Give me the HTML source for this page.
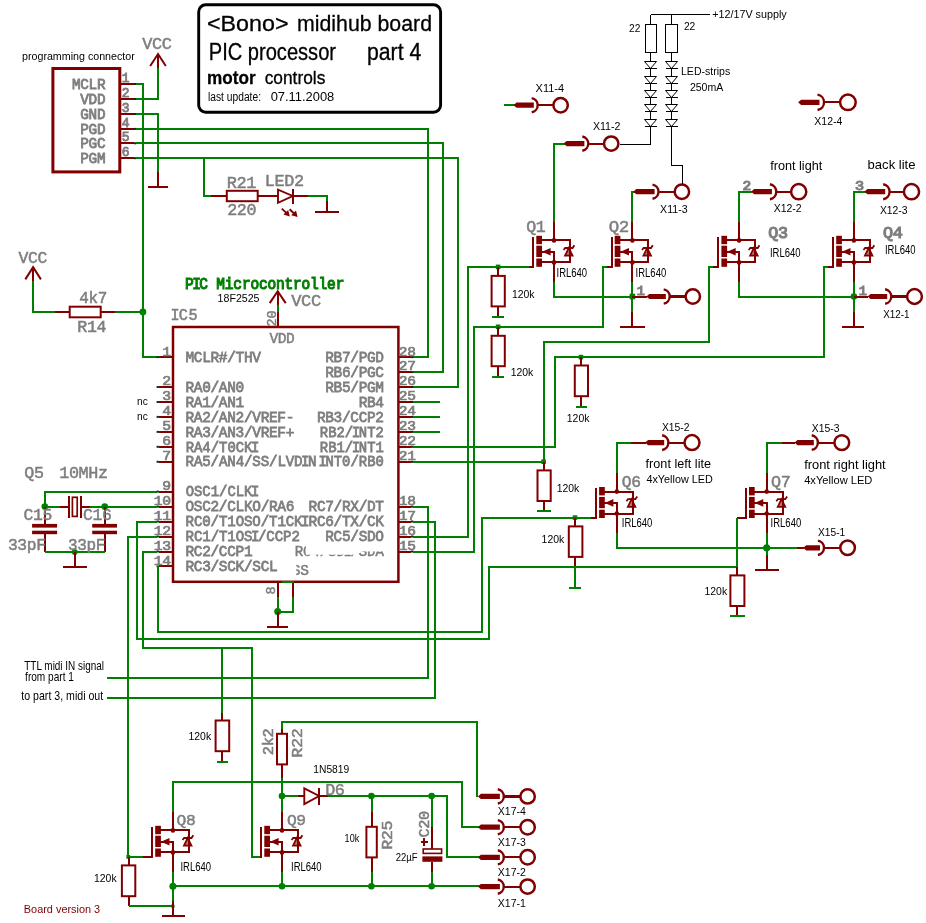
<!DOCTYPE html>
<html><head><meta charset="utf-8"><title>Bono midihub board - PIC processor part 4</title>
<style>
html,body{margin:0;padding:0;background:#fff;}
body{width:926px;height:923px;overflow:hidden;font-family:"Liberation Sans",sans-serif;}
svg{display:block;will-change:transform;}
text{white-space:pre;}
</style></head><body>
<svg width="926" height="923" viewBox="0 0 926 923">
<rect x="0" y="0" width="926" height="923" fill="#ffffff"/>
<rect x="198.7" y="4.8" width="241.9" height="107.4" fill="none" stroke="#000" stroke-width="2.9" rx="7"/>
<text x="207.0" y="30.8" font-family="Liberation Sans" font-size="22.3" fill="#000" font-weight="normal" text-anchor="start" textLength="81.5" lengthAdjust="spacingAndGlyphs" stroke="#000" stroke-width="0.3" >&lt;Bono&gt;</text>
<text x="297.0" y="30.8" font-family="Liberation Sans" font-size="22.6" fill="#000" font-weight="normal" text-anchor="start" textLength="135.0" lengthAdjust="spacingAndGlyphs" stroke="#000" stroke-width="0.3" >midihub board</text>
<text x="208.8" y="60.3" font-family="Liberation Sans" font-size="23.0" fill="#000" font-weight="normal" text-anchor="start" textLength="127.2" lengthAdjust="spacingAndGlyphs" stroke="#000" stroke-width="0.3" >PIC processor</text>
<text x="367.0" y="60.3" font-family="Liberation Sans" font-size="23.0" fill="#000" font-weight="normal" text-anchor="start" textLength="54.3" lengthAdjust="spacingAndGlyphs" stroke="#000" stroke-width="0.3" >part 4</text>
<text x="207.0" y="83.8" font-family="Liberation Sans" font-size="18.5" fill="#000" font-weight="bold" text-anchor="start" textLength="48.6" lengthAdjust="spacingAndGlyphs" stroke="#000" stroke-width="0.3" >motor</text>
<text x="264.7" y="83.8" font-family="Liberation Sans" font-size="17.8" fill="#000" font-weight="normal" text-anchor="start" textLength="60.6" lengthAdjust="spacingAndGlyphs" stroke="#000" stroke-width="0.3" >controls</text>
<text x="208.0" y="100.6" font-family="Liberation Sans" font-size="12.3" fill="#000" font-weight="normal" text-anchor="start" textLength="53.0" lengthAdjust="spacingAndGlyphs" stroke="#000" stroke-width="0.0" >last update:</text>
<text x="270.7" y="100.6" font-family="Liberation Sans" font-size="12.0" fill="#000" font-weight="normal" text-anchor="start" textLength="63.6" lengthAdjust="spacingAndGlyphs" stroke="#000" stroke-width="0.0" >07.11.2008</text>
<text x="22.0" y="60.0" font-family="Liberation Sans" font-size="10.5" fill="#000" font-weight="normal" text-anchor="start" textLength="112.8" lengthAdjust="spacingAndGlyphs" stroke="#000" stroke-width="0.0" >programming connector</text>
<rect x="52.9" y="68.5" width="66.9" height="103.4" fill="none" stroke="#800000" stroke-width="3.0" rx="0"/>
<polyline points="121.0,84.0 134.2,84.0" fill="none" stroke="#800000" stroke-width="2.0" stroke-linecap="butt" shape-rendering="crispEdges"/>
<rect x="134.0" y="83.0" width="2.2" height="2.0" fill="#142814"/>
<text x="-32.72 -24.42 -16.12 -7.82" y="0" transform="translate(104.70 89.00) scale(1 1.0532)" font-family="Liberation Mono" font-size="14.39" fill="#7e7e7e" font-weight="normal" stroke="#7e7e7e" stroke-width="0.8">MCLR</text>
<text x="-0.80" y="0" transform="translate(122.60 81.60) scale(1 1.0256)" font-family="Liberation Mono" font-size="13.00" fill="#7e7e7e" font-weight="normal" stroke="#7e7e7e" stroke-width="0.85">1</text>
<polyline points="121.0,99.0 134.2,99.0" fill="none" stroke="#800000" stroke-width="2.0" stroke-linecap="butt" shape-rendering="crispEdges"/>
<rect x="134.0" y="98.0" width="2.2" height="2.0" fill="#142814"/>
<text x="-24.42 -16.12 -7.82" y="0" transform="translate(104.70 104.00) scale(1 1.0532)" font-family="Liberation Mono" font-size="14.39" fill="#7e7e7e" font-weight="normal" stroke="#7e7e7e" stroke-width="0.8">VDD</text>
<text x="-0.80" y="0" transform="translate(122.60 96.60) scale(1 1.0256)" font-family="Liberation Mono" font-size="13.00" fill="#7e7e7e" font-weight="normal" stroke="#7e7e7e" stroke-width="0.85">2</text>
<polyline points="121.0,114.0 134.2,114.0" fill="none" stroke="#800000" stroke-width="2.0" stroke-linecap="butt" shape-rendering="crispEdges"/>
<rect x="134.0" y="113.0" width="2.2" height="2.0" fill="#142814"/>
<text x="-24.42 -16.12 -7.82" y="0" transform="translate(104.70 119.00) scale(1 1.0532)" font-family="Liberation Mono" font-size="14.39" fill="#7e7e7e" font-weight="normal" stroke="#7e7e7e" stroke-width="0.8">GND</text>
<text x="-0.80" y="0" transform="translate(122.60 111.60) scale(1 1.0256)" font-family="Liberation Mono" font-size="13.00" fill="#7e7e7e" font-weight="normal" stroke="#7e7e7e" stroke-width="0.85">3</text>
<polyline points="121.0,128.9 134.2,128.9" fill="none" stroke="#800000" stroke-width="2.0" stroke-linecap="butt" shape-rendering="crispEdges"/>
<rect x="134.0" y="127.9" width="2.2" height="2.0" fill="#142814"/>
<text x="-24.42 -16.12 -7.82" y="0" transform="translate(104.70 133.90) scale(1 1.0532)" font-family="Liberation Mono" font-size="14.39" fill="#7e7e7e" font-weight="normal" stroke="#7e7e7e" stroke-width="0.8">PGD</text>
<text x="-0.80" y="0" transform="translate(122.60 126.50) scale(1 1.0256)" font-family="Liberation Mono" font-size="13.00" fill="#7e7e7e" font-weight="normal" stroke="#7e7e7e" stroke-width="0.85">4</text>
<polyline points="121.0,143.3 134.2,143.3" fill="none" stroke="#800000" stroke-width="2.0" stroke-linecap="butt" shape-rendering="crispEdges"/>
<rect x="134.0" y="142.3" width="2.2" height="2.0" fill="#142814"/>
<text x="-24.42 -16.12 -7.82" y="0" transform="translate(104.70 148.30) scale(1 1.0532)" font-family="Liberation Mono" font-size="14.39" fill="#7e7e7e" font-weight="normal" stroke="#7e7e7e" stroke-width="0.8">PGC</text>
<text x="-0.80" y="0" transform="translate(122.60 140.90) scale(1 1.0256)" font-family="Liberation Mono" font-size="13.00" fill="#7e7e7e" font-weight="normal" stroke="#7e7e7e" stroke-width="0.85">5</text>
<polyline points="121.0,158.2 134.2,158.2" fill="none" stroke="#800000" stroke-width="2.0" stroke-linecap="butt" shape-rendering="crispEdges"/>
<rect x="134.0" y="157.2" width="2.2" height="2.0" fill="#142814"/>
<text x="-24.42 -16.12 -7.82" y="0" transform="translate(104.70 163.20) scale(1 1.0532)" font-family="Liberation Mono" font-size="14.39" fill="#7e7e7e" font-weight="normal" stroke="#7e7e7e" stroke-width="0.8">PGM</text>
<text x="-0.80" y="0" transform="translate(122.60 155.80) scale(1 1.0256)" font-family="Liberation Mono" font-size="13.00" fill="#7e7e7e" font-weight="normal" stroke="#7e7e7e" stroke-width="0.85">6</text>
<polyline points="136.0,84.0 143.0,84.0 143.0,357.1 157.5,357.1" fill="none" stroke="#008000" stroke-width="2.0" shape-rendering="crispEdges"/>
<polyline points="136.0,99.0 158.0,99.0 158.0,68.0" fill="none" stroke="#008000" stroke-width="2.0" shape-rendering="crispEdges"/>
<polyline points="158.0,54.0 158.0,68.0" fill="none" stroke="#800000" stroke-width="2.0" stroke-linecap="butt" shape-rendering="crispEdges"/>
<polyline points="150.2,66.0 158.0,54.0 165.8,66.0" fill="none" stroke="#800000" stroke-width="2.0" stroke-linecap="butt"/>
<text x="-0.85 8.92 18.69" y="0" transform="translate(143.00 49.00) scale(1 0.9398)" font-family="Liberation Mono" font-size="16.93" fill="#7e7e7e" font-weight="normal" stroke="#7e7e7e" stroke-width="0.5">VCC</text>
<polyline points="136.0,114.0 158.0,114.0 158.0,172.4" fill="none" stroke="#008000" stroke-width="2.0" shape-rendering="crispEdges"/>
<polyline points="158.0,172.4 158.0,187.4" fill="none" stroke="#800000" stroke-width="2.0" stroke-linecap="butt" shape-rendering="crispEdges"/>
<polyline points="148.3,187.4 167.9,187.4" fill="none" stroke="#800000" stroke-width="2.0" stroke-linecap="butt" shape-rendering="crispEdges"/>
<polyline points="136.0,128.9 428.2,128.9 428.2,357.1 413.1,357.1" fill="none" stroke="#008000" stroke-width="2.0" shape-rendering="crispEdges"/>
<polyline points="136.0,143.3 443.3,143.3 443.3,372.1 413.1,372.1" fill="none" stroke="#008000" stroke-width="2.0" shape-rendering="crispEdges"/>
<polyline points="136.0,158.2 458.3,158.2 458.3,387.0 413.1,387.0" fill="none" stroke="#008000" stroke-width="2.0" shape-rendering="crispEdges"/>
<polyline points="204.0,158.2 204.0,196.0 211.3,196.0" fill="none" stroke="#008000" stroke-width="2.0" shape-rendering="crispEdges"/>
<polyline points="211.3,196.0 226.8,196.0" fill="none" stroke="#800000" stroke-width="2.0" stroke-linecap="butt" shape-rendering="crispEdges"/>
<polyline points="257.7,196.0 278.0,196.0" fill="none" stroke="#800000" stroke-width="2.0" stroke-linecap="butt" shape-rendering="crispEdges"/>
<rect x="226.8" y="190.8" width="30.9" height="10.4" fill="none" stroke="#800000" stroke-width="2.0" rx="0"/>
<polygon points="278.0,189.6 278.0,202.8 292.7,196.0" fill="none" stroke="#800000" stroke-width="1.9"/>
<polyline points="292.7,188.6 292.7,203.6" fill="none" stroke="#800000" stroke-width="2.0" stroke-linecap="butt" shape-rendering="crispEdges"/>
<polyline points="292.7,196.0 307.8,196.0" fill="none" stroke="#800000" stroke-width="2.0" stroke-linecap="butt" shape-rendering="crispEdges"/>
<polyline points="307.8,196.0 327.0,196.0 327.0,200.5" fill="none" stroke="#008000" stroke-width="2.0" shape-rendering="crispEdges"/>
<polyline points="327.0,200.5 327.0,211.7" fill="none" stroke="#800000" stroke-width="2.0" stroke-linecap="butt" shape-rendering="crispEdges"/>
<polyline points="315.3,211.7 338.8,211.7" fill="none" stroke="#800000" stroke-width="2.0" stroke-linecap="butt" shape-rendering="crispEdges"/>
<polyline points="281.8,208.6 286.8,213.4" fill="none" stroke="#800000" stroke-width="1.9" stroke-linecap="butt"/>
<polygon points="289.8,216.4 283.4,214.6 288.2,210.0" fill="#800000"/>
<polyline points="289.6,209.2 294.6,214.0" fill="none" stroke="#800000" stroke-width="1.9" stroke-linecap="butt"/>
<polygon points="297.6,217.0 291.2,215.2 296.0,210.6" fill="#800000"/>
<text x="-0.85 8.92 18.69" y="0" transform="translate(227.60 188.00) scale(1 0.9398)" font-family="Liberation Mono" font-size="16.93" fill="#7e7e7e" font-weight="normal" stroke="#7e7e7e" stroke-width="0.5">R21</text>
<text x="-0.84 8.79 18.42" y="0" transform="translate(228.00 214.70) scale(1 0.9528)" font-family="Liberation Mono" font-size="16.70" fill="#7e7e7e" font-weight="normal" stroke="#7e7e7e" stroke-width="0.5">220</text>
<text x="-0.84 8.88 18.61 28.33" y="0" transform="translate(265.70 186.00) scale(1 0.9438)" font-family="Liberation Mono" font-size="16.86" fill="#7e7e7e" font-weight="normal" stroke="#7e7e7e" stroke-width="0.5">LED2</text>
<text x="-0.84 8.63 18.09" y="0" transform="translate(19.30 262.60) scale(1 0.9695)" font-family="Liberation Mono" font-size="16.41" fill="#7e7e7e" font-weight="normal" stroke="#7e7e7e" stroke-width="0.5">VCC</text>
<polyline points="33.1,267.1 33.1,281.4" fill="none" stroke="#800000" stroke-width="2.0" stroke-linecap="butt" shape-rendering="crispEdges"/>
<polyline points="25.3,279.4 33.1,267.1 40.9,279.4" fill="none" stroke="#800000" stroke-width="2.0" stroke-linecap="butt"/>
<polyline points="33.1,281.4 33.1,312.0 55.1,312.0" fill="none" stroke="#008000" stroke-width="2.0" shape-rendering="crispEdges"/>
<polyline points="55.1,312.0 69.7,312.0" fill="none" stroke="#800000" stroke-width="2.0" stroke-linecap="butt" shape-rendering="crispEdges"/>
<polyline points="100.7,312.0 115.3,312.0" fill="none" stroke="#800000" stroke-width="2.0" stroke-linecap="butt" shape-rendering="crispEdges"/>
<rect x="69.7" y="306.7" width="31.0" height="10.6" fill="none" stroke="#800000" stroke-width="2.0" rx="0"/>
<polyline points="115.3,312.0 142.8,312.0" fill="none" stroke="#008000" stroke-width="2.0" shape-rendering="crispEdges"/>
<circle cx="142.9" cy="312.0" r="3.4" fill="#008000"/>
<text x="-0.83 8.37 17.57" y="0" transform="translate(80.20 303.20) scale(1 0.9976)" font-family="Liberation Mono" font-size="15.95" fill="#7e7e7e" font-weight="normal" stroke="#7e7e7e" stroke-width="0.5">4k7</text>
<text x="-0.84 8.76 18.36" y="0" transform="translate(78.20 331.50) scale(1 0.9561)" font-family="Liberation Mono" font-size="16.64" fill="#7e7e7e" font-weight="normal" stroke="#7e7e7e" stroke-width="0.5">R14</text>
<rect x="173.0" y="327.0" width="225.4" height="254.8" fill="none" stroke="#800000" stroke-width="2.5" rx="0"/>
<polyline points="158.6,357.1 173.0,357.1" fill="none" stroke="#800000" stroke-width="2.0" stroke-linecap="butt" shape-rendering="crispEdges"/>
<rect x="156.6" y="356.1" width="2.3" height="2.0" fill="#142814"/>
<text x="-0.82 7.53 15.88 24.23 32.58 40.93 49.28 57.63 65.98" y="0" transform="translate(186.30 361.80) scale(1 1.0050)" font-family="Liberation Mono" font-size="14.47" fill="#7e7e7e" font-weight="normal" stroke="#7e7e7e" stroke-width="0.75">MCLR#/THV</text>
<text x="-8.02" y="0" transform="translate(170.20 355.50) scale(1 0.8844)" font-family="Liberation Mono" font-size="14.73" fill="#7e7e7e" font-weight="normal" stroke="#7e7e7e" stroke-width="0.8">1</text>
<polyline points="158.6,387.0 173.0,387.0" fill="none" stroke="#800000" stroke-width="2.0" stroke-linecap="butt" shape-rendering="crispEdges"/>
<rect x="156.6" y="386.0" width="2.3" height="2.0" fill="#142814"/>
<text x="-0.82 7.53 15.88 24.23 32.58 40.93 49.28" y="0" transform="translate(186.30 391.70) scale(1 1.0050)" font-family="Liberation Mono" font-size="14.47" fill="#7e7e7e" font-weight="normal" stroke="#7e7e7e" stroke-width="0.75">RA0/AN0</text>
<text x="-8.02" y="0" transform="translate(170.20 385.40) scale(1 0.8844)" font-family="Liberation Mono" font-size="14.73" fill="#7e7e7e" font-weight="normal" stroke="#7e7e7e" stroke-width="0.8">2</text>
<polyline points="158.6,402.0 173.0,402.0" fill="none" stroke="#800000" stroke-width="2.0" stroke-linecap="butt" shape-rendering="crispEdges"/>
<rect x="156.6" y="401.0" width="2.3" height="2.0" fill="#142814"/>
<text x="-0.82 7.53 15.88 24.23 32.58 40.93 49.28" y="0" transform="translate(186.30 406.65) scale(1 1.0050)" font-family="Liberation Mono" font-size="14.47" fill="#7e7e7e" font-weight="normal" stroke="#7e7e7e" stroke-width="0.75">RA1/AN1</text>
<text x="-8.02" y="0" transform="translate(170.20 400.35) scale(1 0.8844)" font-family="Liberation Mono" font-size="14.73" fill="#7e7e7e" font-weight="normal" stroke="#7e7e7e" stroke-width="0.8">3</text>
<polyline points="158.6,416.9 173.0,416.9" fill="none" stroke="#800000" stroke-width="2.0" stroke-linecap="butt" shape-rendering="crispEdges"/>
<rect x="156.6" y="415.9" width="2.3" height="2.0" fill="#142814"/>
<text x="-0.82 7.53 15.88 24.23 32.58 40.93 49.28 57.63 65.98 74.33 82.68 91.03 99.38" y="0" transform="translate(186.30 421.60) scale(1 1.0050)" font-family="Liberation Mono" font-size="14.47" fill="#7e7e7e" font-weight="normal" stroke="#7e7e7e" stroke-width="0.75">RA2/AN2/VREF-</text>
<text x="-8.02" y="0" transform="translate(170.20 415.30) scale(1 0.8844)" font-family="Liberation Mono" font-size="14.73" fill="#7e7e7e" font-weight="normal" stroke="#7e7e7e" stroke-width="0.8">4</text>
<polyline points="158.6,431.9 173.0,431.9" fill="none" stroke="#800000" stroke-width="2.0" stroke-linecap="butt" shape-rendering="crispEdges"/>
<rect x="156.6" y="430.9" width="2.3" height="2.0" fill="#142814"/>
<text x="-0.82 7.53 15.88 24.23 32.58 40.93 49.28 57.63 65.98 74.33 82.68 91.03 99.38" y="0" transform="translate(186.30 436.55) scale(1 1.0050)" font-family="Liberation Mono" font-size="14.47" fill="#7e7e7e" font-weight="normal" stroke="#7e7e7e" stroke-width="0.75">RA3/AN3/VREF+</text>
<text x="-8.02" y="0" transform="translate(170.20 430.25) scale(1 0.8844)" font-family="Liberation Mono" font-size="14.73" fill="#7e7e7e" font-weight="normal" stroke="#7e7e7e" stroke-width="0.8">5</text>
<polyline points="158.6,446.8 173.0,446.8" fill="none" stroke="#800000" stroke-width="2.0" stroke-linecap="butt" shape-rendering="crispEdges"/>
<rect x="156.6" y="445.8" width="2.3" height="2.0" fill="#142814"/>
<text x="-0.66 7.69 16.04 24.39 32.74 41.09 49.44 57.79 64.77" y="0" transform="translate(186.30 451.50) scale(1 1.0432)" font-family="Liberation Mono" font-size="13.94" fill="#7e7e7e" font-weight="normal" stroke="#7e7e7e" stroke-width="0.75">RA4/T0CKI</text>
<text x="-8.02" y="0" transform="translate(170.20 445.20) scale(1 0.8844)" font-family="Liberation Mono" font-size="14.73" fill="#7e7e7e" font-weight="normal" stroke="#7e7e7e" stroke-width="0.8">6</text>
<polyline points="158.6,461.8 173.0,461.8" fill="none" stroke="#800000" stroke-width="2.0" stroke-linecap="butt" shape-rendering="crispEdges"/>
<rect x="156.6" y="460.8" width="2.3" height="2.0" fill="#142814"/>
<text x="-0.73 7.62 15.97 24.32 32.67 41.02 49.37 57.72 66.07 74.42 82.77 91.12 99.47 107.82 114.80 121.77" y="0" transform="translate(186.30 466.45) scale(1 1.0261)" font-family="Liberation Mono" font-size="14.18" fill="#7e7e7e" font-weight="normal" stroke="#7e7e7e" stroke-width="0.75">RA5/AN4/SS/LVDIN</text>
<text x="-8.02" y="0" transform="translate(170.20 460.15) scale(1 0.8844)" font-family="Liberation Mono" font-size="14.73" fill="#7e7e7e" font-weight="normal" stroke="#7e7e7e" stroke-width="0.8">7</text>
<polyline points="158.6,491.6 173.0,491.6" fill="none" stroke="#800000" stroke-width="2.0" stroke-linecap="butt" shape-rendering="crispEdges"/>
<rect x="156.6" y="490.6" width="2.3" height="2.0" fill="#142814"/>
<text x="-0.66 7.69 16.04 24.39 32.74 41.09 49.44 57.79 64.77" y="0" transform="translate(186.30 496.35) scale(1 1.0432)" font-family="Liberation Mono" font-size="13.94" fill="#7e7e7e" font-weight="normal" stroke="#7e7e7e" stroke-width="0.75">OSC1/CLKI</text>
<text x="-8.02" y="0" transform="translate(170.20 490.05) scale(1 0.8844)" font-family="Liberation Mono" font-size="14.73" fill="#7e7e7e" font-weight="normal" stroke="#7e7e7e" stroke-width="0.8">9</text>
<polyline points="158.6,506.6 173.0,506.6" fill="none" stroke="#800000" stroke-width="2.0" stroke-linecap="butt" shape-rendering="crispEdges"/>
<rect x="156.6" y="505.6" width="2.3" height="2.0" fill="#142814"/>
<text x="-0.82 7.53 15.88 24.23 32.58 40.93 49.28 57.63 65.98 74.33 82.68 91.03 99.38" y="0" transform="translate(186.30 511.30) scale(1 1.0050)" font-family="Liberation Mono" font-size="14.47" fill="#7e7e7e" font-weight="normal" stroke="#7e7e7e" stroke-width="0.75">OSC2/CLKO/RA6</text>
<text x="-16.52 -8.02" y="0" transform="translate(170.20 505.00) scale(1 0.8844)" font-family="Liberation Mono" font-size="14.73" fill="#7e7e7e" font-weight="normal" stroke="#7e7e7e" stroke-width="0.8">10</text>
<polyline points="158.6,521.5 173.0,521.5" fill="none" stroke="#800000" stroke-width="2.0" stroke-linecap="butt" shape-rendering="crispEdges"/>
<rect x="156.6" y="520.5" width="2.3" height="2.0" fill="#142814"/>
<text x="-0.72 7.63 15.98 24.33 32.68 41.03 49.38 57.73 66.08 74.43 82.78 91.13 99.48 107.83 114.80" y="0" transform="translate(186.30 526.25) scale(1 1.0275)" font-family="Liberation Mono" font-size="14.16" fill="#7e7e7e" font-weight="normal" stroke="#7e7e7e" stroke-width="0.75">RC0/T1OSO/T1CKI</text>
<text x="-16.52 -8.02" y="0" transform="translate(170.20 519.95) scale(1 0.8844)" font-family="Liberation Mono" font-size="14.73" fill="#7e7e7e" font-weight="normal" stroke="#7e7e7e" stroke-width="0.8">11</text>
<polyline points="158.6,536.5 173.0,536.5" fill="none" stroke="#800000" stroke-width="2.0" stroke-linecap="butt" shape-rendering="crispEdges"/>
<rect x="156.6" y="535.5" width="2.3" height="2.0" fill="#142814"/>
<text x="-0.71 7.64 15.99 24.34 32.69 41.04 49.39 57.74 64.71 71.69 80.04 88.39 96.74 105.09" y="0" transform="translate(186.30 541.20) scale(1 1.0292)" font-family="Liberation Mono" font-size="14.13" fill="#7e7e7e" font-weight="normal" stroke="#7e7e7e" stroke-width="0.75">RC1/T1OSI/CCP2</text>
<text x="-16.52 -8.02" y="0" transform="translate(170.20 534.90) scale(1 0.8844)" font-family="Liberation Mono" font-size="14.73" fill="#7e7e7e" font-weight="normal" stroke="#7e7e7e" stroke-width="0.8">12</text>
<polyline points="158.6,551.5 173.0,551.5" fill="none" stroke="#800000" stroke-width="2.0" stroke-linecap="butt" shape-rendering="crispEdges"/>
<rect x="156.6" y="550.5" width="2.3" height="2.0" fill="#142814"/>
<text x="-0.82 7.53 15.88 24.23 32.58 40.93 49.28 57.63" y="0" transform="translate(186.30 556.15) scale(1 1.0050)" font-family="Liberation Mono" font-size="14.47" fill="#7e7e7e" font-weight="normal" stroke="#7e7e7e" stroke-width="0.75">RC2/CCP1</text>
<text x="-16.52 -8.02" y="0" transform="translate(170.20 549.85) scale(1 0.8844)" font-family="Liberation Mono" font-size="14.73" fill="#7e7e7e" font-weight="normal" stroke="#7e7e7e" stroke-width="0.8">13</text>
<polyline points="158.6,566.4 173.0,566.4" fill="none" stroke="#800000" stroke-width="2.0" stroke-linecap="butt" shape-rendering="crispEdges"/>
<rect x="156.6" y="565.4" width="2.3" height="2.0" fill="#142814"/>
<text x="-0.82 7.53 15.88 24.23 32.58 40.93 49.28 57.63 65.98 74.33 82.68" y="0" transform="translate(186.30 571.10) scale(1 1.0050)" font-family="Liberation Mono" font-size="14.47" fill="#7e7e7e" font-weight="normal" stroke="#7e7e7e" stroke-width="0.75">RC3/SCK/SCL</text>
<text x="-16.52 -8.02" y="0" transform="translate(170.20 564.80) scale(1 0.8844)" font-family="Liberation Mono" font-size="14.73" fill="#7e7e7e" font-weight="normal" stroke="#7e7e7e" stroke-width="0.8">14</text>
<polyline points="398.4,357.1 411.2,357.1" fill="none" stroke="#800000" stroke-width="2.0" stroke-linecap="butt" shape-rendering="crispEdges"/>
<rect x="411.0" y="356.1" width="2.3" height="2.0" fill="#142814"/>
<text x="-57.97 -49.62 -41.27 -32.92 -24.57 -16.22 -7.87" y="0" transform="translate(383.20 361.80) scale(1 1.0050)" font-family="Liberation Mono" font-size="14.47" fill="#7e7e7e" font-weight="normal" stroke="#7e7e7e" stroke-width="0.75">RB7/PGD</text>
<text x="-0.82 7.58" y="0" transform="translate(399.60 355.50) scale(1 0.8949)" font-family="Liberation Mono" font-size="14.56" fill="#7e7e7e" font-weight="normal" stroke="#7e7e7e" stroke-width="0.8">28</text>
<polyline points="398.4,372.1 411.2,372.1" fill="none" stroke="#800000" stroke-width="2.0" stroke-linecap="butt" shape-rendering="crispEdges"/>
<rect x="411.0" y="371.1" width="2.3" height="2.0" fill="#142814"/>
<text x="-57.97 -49.62 -41.27 -32.92 -24.57 -16.22 -7.87" y="0" transform="translate(383.20 376.75) scale(1 1.0050)" font-family="Liberation Mono" font-size="14.47" fill="#7e7e7e" font-weight="normal" stroke="#7e7e7e" stroke-width="0.75">RB6/PGC</text>
<text x="-0.82 7.58" y="0" transform="translate(399.60 370.45) scale(1 0.8949)" font-family="Liberation Mono" font-size="14.56" fill="#7e7e7e" font-weight="normal" stroke="#7e7e7e" stroke-width="0.8">27</text>
<polyline points="398.4,387.0 411.2,387.0" fill="none" stroke="#800000" stroke-width="2.0" stroke-linecap="butt" shape-rendering="crispEdges"/>
<rect x="411.0" y="386.0" width="2.3" height="2.0" fill="#142814"/>
<text x="-57.97 -49.62 -41.27 -32.92 -24.57 -16.22 -7.87" y="0" transform="translate(383.20 391.70) scale(1 1.0050)" font-family="Liberation Mono" font-size="14.47" fill="#7e7e7e" font-weight="normal" stroke="#7e7e7e" stroke-width="0.75">RB5/PGM</text>
<text x="-0.82 7.58" y="0" transform="translate(399.60 385.40) scale(1 0.8949)" font-family="Liberation Mono" font-size="14.56" fill="#7e7e7e" font-weight="normal" stroke="#7e7e7e" stroke-width="0.8">26</text>
<polyline points="398.4,402.0 411.2,402.0" fill="none" stroke="#800000" stroke-width="2.0" stroke-linecap="butt" shape-rendering="crispEdges"/>
<rect x="411.0" y="401.0" width="2.3" height="2.0" fill="#142814"/>
<text x="-24.57 -16.22 -7.87" y="0" transform="translate(383.20 406.65) scale(1 1.0050)" font-family="Liberation Mono" font-size="14.47" fill="#7e7e7e" font-weight="normal" stroke="#7e7e7e" stroke-width="0.75">RB4</text>
<text x="-0.82 7.58" y="0" transform="translate(399.60 400.35) scale(1 0.8949)" font-family="Liberation Mono" font-size="14.56" fill="#7e7e7e" font-weight="normal" stroke="#7e7e7e" stroke-width="0.8">25</text>
<polyline points="398.4,416.9 411.2,416.9" fill="none" stroke="#800000" stroke-width="2.0" stroke-linecap="butt" shape-rendering="crispEdges"/>
<rect x="411.0" y="415.9" width="2.3" height="2.0" fill="#142814"/>
<text x="-66.32 -57.97 -49.62 -41.27 -32.92 -24.57 -16.22 -7.87" y="0" transform="translate(383.20 421.60) scale(1 1.0050)" font-family="Liberation Mono" font-size="14.47" fill="#7e7e7e" font-weight="normal" stroke="#7e7e7e" stroke-width="0.75">RB3/CCP2</text>
<text x="-0.82 7.58" y="0" transform="translate(399.60 415.30) scale(1 0.8949)" font-family="Liberation Mono" font-size="14.56" fill="#7e7e7e" font-weight="normal" stroke="#7e7e7e" stroke-width="0.8">24</text>
<polyline points="398.4,431.9 411.2,431.9" fill="none" stroke="#800000" stroke-width="2.0" stroke-linecap="butt" shape-rendering="crispEdges"/>
<rect x="411.0" y="430.9" width="2.3" height="2.0" fill="#142814"/>
<text x="-63.39 -55.04 -46.69 -38.34 -31.36 -24.39 -16.04 -7.69" y="0" transform="translate(383.20 436.55) scale(1 1.0481)" font-family="Liberation Mono" font-size="13.88" fill="#7e7e7e" font-weight="normal" stroke="#7e7e7e" stroke-width="0.75">RB2/INT2</text>
<text x="-0.82 7.58" y="0" transform="translate(399.60 430.25) scale(1 0.8949)" font-family="Liberation Mono" font-size="14.56" fill="#7e7e7e" font-weight="normal" stroke="#7e7e7e" stroke-width="0.8">23</text>
<polyline points="398.4,446.8 411.2,446.8" fill="none" stroke="#800000" stroke-width="2.0" stroke-linecap="butt" shape-rendering="crispEdges"/>
<rect x="411.0" y="445.8" width="2.3" height="2.0" fill="#142814"/>
<text x="-63.39 -55.04 -46.69 -38.34 -31.36 -24.39 -16.04 -7.69" y="0" transform="translate(383.20 451.50) scale(1 1.0481)" font-family="Liberation Mono" font-size="13.88" fill="#7e7e7e" font-weight="normal" stroke="#7e7e7e" stroke-width="0.75">RB1/INT1</text>
<text x="-0.82 7.58" y="0" transform="translate(399.60 445.20) scale(1 0.8949)" font-family="Liberation Mono" font-size="14.56" fill="#7e7e7e" font-weight="normal" stroke="#7e7e7e" stroke-width="0.8">22</text>
<polyline points="398.4,461.8 411.2,461.8" fill="none" stroke="#800000" stroke-width="2.0" stroke-linecap="butt" shape-rendering="crispEdges"/>
<rect x="411.0" y="460.8" width="2.3" height="2.0" fill="#142814"/>
<text x="-64.76 -57.79 -49.44 -41.09 -32.74 -24.39 -16.04 -7.69" y="0" transform="translate(383.20 466.45) scale(1 1.0481)" font-family="Liberation Mono" font-size="13.88" fill="#7e7e7e" font-weight="normal" stroke="#7e7e7e" stroke-width="0.75">INT0/RB0</text>
<text x="-0.82 7.58" y="0" transform="translate(399.60 460.15) scale(1 0.8949)" font-family="Liberation Mono" font-size="14.56" fill="#7e7e7e" font-weight="normal" stroke="#7e7e7e" stroke-width="0.8">21</text>
<polyline points="398.4,506.6 411.2,506.6" fill="none" stroke="#800000" stroke-width="2.0" stroke-linecap="butt" shape-rendering="crispEdges"/>
<rect x="411.0" y="505.6" width="2.3" height="2.0" fill="#142814"/>
<text x="-74.67 -66.32 -57.97 -49.62 -41.27 -32.92 -24.57 -16.22 -7.87" y="0" transform="translate(383.20 511.30) scale(1 1.0050)" font-family="Liberation Mono" font-size="14.47" fill="#7e7e7e" font-weight="normal" stroke="#7e7e7e" stroke-width="0.75">RC7/RX/DT</text>
<text x="-0.82 7.58" y="0" transform="translate(399.60 505.00) scale(1 0.8949)" font-family="Liberation Mono" font-size="14.56" fill="#7e7e7e" font-weight="normal" stroke="#7e7e7e" stroke-width="0.8">18</text>
<polyline points="398.4,521.5 411.2,521.5" fill="none" stroke="#800000" stroke-width="2.0" stroke-linecap="butt" shape-rendering="crispEdges"/>
<rect x="411.0" y="520.5" width="2.3" height="2.0" fill="#142814"/>
<text x="-74.67 -66.32 -57.97 -49.62 -41.27 -32.92 -24.57 -16.22 -7.87" y="0" transform="translate(383.20 526.25) scale(1 1.0050)" font-family="Liberation Mono" font-size="14.47" fill="#7e7e7e" font-weight="normal" stroke="#7e7e7e" stroke-width="0.75">RC6/TX/CK</text>
<text x="-0.82 7.58" y="0" transform="translate(399.60 519.95) scale(1 0.8949)" font-family="Liberation Mono" font-size="14.56" fill="#7e7e7e" font-weight="normal" stroke="#7e7e7e" stroke-width="0.8">17</text>
<polyline points="398.4,536.5 411.2,536.5" fill="none" stroke="#800000" stroke-width="2.0" stroke-linecap="butt" shape-rendering="crispEdges"/>
<rect x="411.0" y="535.5" width="2.3" height="2.0" fill="#142814"/>
<text x="-57.97 -49.62 -41.27 -32.92 -24.57 -16.22 -7.87" y="0" transform="translate(383.20 541.20) scale(1 1.0050)" font-family="Liberation Mono" font-size="14.47" fill="#7e7e7e" font-weight="normal" stroke="#7e7e7e" stroke-width="0.75">RC5/SDO</text>
<text x="-0.82 7.58" y="0" transform="translate(399.60 534.90) scale(1 0.8949)" font-family="Liberation Mono" font-size="14.56" fill="#7e7e7e" font-weight="normal" stroke="#7e7e7e" stroke-width="0.8">16</text>
<polyline points="398.4,551.5 411.2,551.5" fill="none" stroke="#800000" stroke-width="2.0" stroke-linecap="butt" shape-rendering="crispEdges"/>
<rect x="411.0" y="550.5" width="2.3" height="2.0" fill="#142814"/>
<text x="-0.82 7.58" y="0" transform="translate(399.60 549.85) scale(1 0.8949)" font-family="Liberation Mono" font-size="14.56" fill="#7e7e7e" font-weight="normal" stroke="#7e7e7e" stroke-width="0.8">15</text>
<clipPath id="c1"><rect x="290" y="540" width="15.8" height="20"/><rect x="305.8" y="554.8" width="52" height="6"/><rect x="357.8" y="551.4" width="30" height="8"/></clipPath>
<g clip-path="url(#c1)">
<text x="-88.49 -80.14 -71.79 -63.44 -55.09 -46.74 -39.76 -32.79 -24.44 -16.09 -7.74" y="0" transform="translate(383.20 556.15) scale(1 1.0360)" font-family="Liberation Mono" font-size="14.04" fill="#7e7e7e" font-weight="normal" stroke="#7e7e7e" stroke-width="0.5">RC4/SDI/SDA</text>
</g>
<clipPath id="c2"><rect x="296.3" y="560" width="20" height="20"/></clipPath>
<g clip-path="url(#c2)">
<text x="-0.82 7.53 15.88" y="0" transform="translate(284.30 574.80) scale(1 1.0050)" font-family="Liberation Mono" font-size="14.47" fill="#7e7e7e" font-weight="normal" stroke="#7e7e7e" stroke-width="0.5">VSS</text>
</g>
<text x="-0.82 7.55 15.92" y="0" transform="translate(270.20 342.70) scale(1 1.0030)" font-family="Liberation Mono" font-size="14.50" fill="#7e7e7e" font-weight="normal" stroke="#7e7e7e" stroke-width="0.5">VDD</text>
<text x="-1.91 6.32 16.17" y="0" transform="translate(172.40 320.20) scale(1 1.0470)" font-family="Liberation Mono" font-size="15.20" fill="#7e7e7e" font-weight="normal" stroke="#7e7e7e" stroke-width="0.5">IC5</text>
<text x="-0.74 6.37 13.49 22.01 30.54 39.06 47.58 56.10 64.62 73.14 81.66 90.19 98.71 107.23 115.75 124.27 132.79 141.31 149.83" y="0" transform="translate(185.80 288.80) scale(1 1.1274)" font-family="Liberation Mono" font-size="14.51" fill="#008000" font-weight="normal" stroke="#008000" stroke-width="1.0">PIC Microcontroller</text>
<text x="217.6" y="301.8" font-family="Liberation Sans" font-size="10.5" fill="#000" font-weight="normal" text-anchor="start" textLength="41.9" lengthAdjust="spacingAndGlyphs" stroke="#000" stroke-width="0.0" >18F2525</text>
<text x="137.1" y="405.4" font-family="Liberation Sans" font-size="10.5" fill="#000" font-weight="normal" text-anchor="start" textLength="10.7" lengthAdjust="spacingAndGlyphs" stroke="#000" stroke-width="0.0" >nc</text>
<text x="137.1" y="420.4" font-family="Liberation Sans" font-size="10.5" fill="#000" font-weight="normal" text-anchor="start" textLength="10.7" lengthAdjust="spacingAndGlyphs" stroke="#000" stroke-width="0.0" >nc</text>
<polyline points="277.7,327.0 277.7,311.9" fill="none" stroke="#800000" stroke-width="2.0" stroke-linecap="butt" shape-rendering="crispEdges"/>
<polyline points="277.7,311.9 277.7,305.1" fill="none" stroke="#008000" stroke-width="2.0" shape-rendering="crispEdges"/>
<polyline points="277.7,291.3 277.7,305.1" fill="none" stroke="#800000" stroke-width="2.0" stroke-linecap="butt" shape-rendering="crispEdges"/>
<polyline points="269.7,303.1 277.7,291.3 285.7,303.1" fill="none" stroke="#800000" stroke-width="2.0" stroke-linecap="butt"/>
<text x="-0.85 9.02 18.89" y="0" transform="translate(292.00 306.40) scale(1 0.9302)" font-family="Liberation Mono" font-size="17.10" fill="#7e7e7e" font-weight="normal" stroke="#7e7e7e" stroke-width="0.5">VCC</text>
<text x="-0.81 6.99" y="0" transform="translate(276.30 325.60) rotate(-90) scale(1 0.9638)" font-family="Liberation Mono" font-size="13.52" fill="#7e7e7e" font-weight="normal" stroke="#7e7e7e" stroke-width="0.5">20</text>
<polyline points="277.7,581.8 277.7,596.6" fill="none" stroke="#800000" stroke-width="2.0" stroke-linecap="butt" shape-rendering="crispEdges"/>
<polyline points="292.8,581.8 292.8,596.6" fill="none" stroke="#800000" stroke-width="2.0" stroke-linecap="butt" shape-rendering="crispEdges"/>
<polyline points="277.7,596.6 277.7,611.6" fill="none" stroke="#008000" stroke-width="2.0" shape-rendering="crispEdges"/>
<polyline points="292.8,596.6 292.8,611.6 277.7,611.6" fill="none" stroke="#008000" stroke-width="2.0" shape-rendering="crispEdges"/>
<polyline points="281.5,581.8 294.0,581.8" fill="none" stroke="#008000" stroke-width="2.0" shape-rendering="crispEdges"/>
<circle cx="277.7" cy="611.6" r="3.5" fill="#008000"/>
<polyline points="277.7,611.6 277.7,626.7" fill="none" stroke="#800000" stroke-width="2.0" stroke-linecap="butt" shape-rendering="crispEdges"/>
<polyline points="266.5,626.7 287.8,626.7" fill="none" stroke="#800000" stroke-width="2.0" stroke-linecap="butt" shape-rendering="crispEdges"/>
<text x="-0.81" y="0" transform="translate(275.40 593.80) rotate(-90) scale(1 0.9638)" font-family="Liberation Mono" font-size="13.52" fill="#7e7e7e" font-weight="normal" stroke="#7e7e7e" stroke-width="0.5">8</text>
<polyline points="413.1,402.0 440.2,402.0" fill="none" stroke="#008000" stroke-width="2.0" shape-rendering="crispEdges"/>
<polyline points="413.1,416.9 440.2,416.9" fill="none" stroke="#008000" stroke-width="2.0" shape-rendering="crispEdges"/>
<polyline points="413.1,431.9 440.2,431.9" fill="none" stroke="#008000" stroke-width="2.0" shape-rendering="crispEdges"/>
<text x="-0.84 8.81" y="0" transform="translate(25.10 478.10) scale(1 0.9511)" font-family="Liberation Mono" font-size="16.73" fill="#7e7e7e" font-weight="normal" stroke="#7e7e7e" stroke-width="0.5">Q5</text>
<text x="-0.84 8.84 18.52 28.20 37.88" y="0" transform="translate(60.10 477.60) scale(1 0.9482)" font-family="Liberation Mono" font-size="16.78" fill="#7e7e7e" font-weight="normal" stroke="#7e7e7e" stroke-width="0.5">10MHz</text>
<polyline points="157.3,491.6 44.8,491.6 44.8,506.6 59.6,506.6" fill="none" stroke="#008000" stroke-width="2.0" shape-rendering="crispEdges"/>
<polyline points="157.3,506.6 90.2,506.6" fill="none" stroke="#008000" stroke-width="2.0" shape-rendering="crispEdges"/>
<polyline points="59.6,506.6 68.9,506.6" fill="none" stroke="#800000" stroke-width="2.0" stroke-linecap="butt" shape-rendering="crispEdges"/>
<polyline points="80.7,506.6 90.2,506.6" fill="none" stroke="#800000" stroke-width="2.0" stroke-linecap="butt" shape-rendering="crispEdges"/>
<polyline points="68.9,496.2 68.9,518.2" fill="none" stroke="#800000" stroke-width="2.0" stroke-linecap="butt" shape-rendering="crispEdges"/>
<polyline points="80.7,496.2 80.7,518.2" fill="none" stroke="#800000" stroke-width="2.0" stroke-linecap="butt" shape-rendering="crispEdges"/>
<rect x="72.4" y="497.3" width="4.8" height="19.1" fill="none" stroke="#800000" stroke-width="1.7" rx="0"/>
<circle cx="44.8" cy="506.6" r="3.3" fill="#008000"/>
<circle cx="104.7" cy="506.6" r="3.3" fill="#008000"/>
<polyline points="45.0,506.6 45.0,525.0" fill="none" stroke="#800000" stroke-width="2.0" stroke-linecap="butt" shape-rendering="crispEdges"/>
<rect x="32.1" y="523.9" width="25.0" height="3.7" fill="#800000"/>
<rect x="32.1" y="530.7" width="25.0" height="3.5" fill="#800000"/>
<polyline points="45.0,533.0 45.0,552.0" fill="none" stroke="#800000" stroke-width="2.0" stroke-linecap="butt" shape-rendering="crispEdges"/>
<polyline points="104.7,506.6 104.7,525.0" fill="none" stroke="#800000" stroke-width="2.0" stroke-linecap="butt" shape-rendering="crispEdges"/>
<rect x="92.2" y="523.9" width="24.8" height="3.7" fill="#800000"/>
<rect x="92.2" y="530.7" width="24.8" height="3.5" fill="#800000"/>
<polyline points="104.7,533.0 104.7,552.0" fill="none" stroke="#800000" stroke-width="2.0" stroke-linecap="butt" shape-rendering="crispEdges"/>
<polyline points="45.0,552.0 104.7,552.0" fill="none" stroke="#008000" stroke-width="2.0" shape-rendering="crispEdges"/>
<circle cx="74.7" cy="552.0" r="3.0" fill="#008000"/>
<polyline points="74.7,552.0 74.7,567.0" fill="none" stroke="#800000" stroke-width="2.0" stroke-linecap="butt" shape-rendering="crispEdges"/>
<polyline points="63.1,567.0 87.0,567.0" fill="none" stroke="#800000" stroke-width="2.0" stroke-linecap="butt" shape-rendering="crispEdges"/>
<text x="-0.84 8.63 18.09" y="0" transform="translate(24.30 520.20) scale(1 0.9695)" font-family="Liberation Mono" font-size="16.41" fill="#7e7e7e" font-weight="normal" stroke="#7e7e7e" stroke-width="0.5">C15</text>
<text x="-0.84 8.63 18.09" y="0" transform="translate(83.90 520.20) scale(1 0.9695)" font-family="Liberation Mono" font-size="16.41" fill="#7e7e7e" font-weight="normal" stroke="#7e7e7e" stroke-width="0.5">C16</text>
<text x="-0.84 8.56 17.96 27.36" y="0" transform="translate(8.80 550.20) scale(1 0.9764)" font-family="Liberation Mono" font-size="16.29" fill="#7e7e7e" font-weight="normal" stroke="#7e7e7e" stroke-width="0.5">33pF</text>
<text x="-0.83 8.41 17.66 26.91" y="0" transform="translate(68.90 550.20) scale(1 0.9923)" font-family="Liberation Mono" font-size="16.03" fill="#7e7e7e" font-weight="normal" stroke="#7e7e7e" stroke-width="0.5">33pF</text>
<polyline points="157.3,521.5 137.1,521.5 137.1,639.2 489.0,639.2 489.0,566.7 737.1,566.7" fill="none" stroke="#008000" stroke-width="2.0" shape-rendering="crispEdges"/>
<polyline points="157.3,536.5 128.3,536.5 128.3,856.9" fill="none" stroke="#008000" stroke-width="2.0" shape-rendering="crispEdges"/>
<polyline points="157.3,551.5 142.8,551.5 142.8,648.0 252.1,648.0 252.1,856.9 260.4,856.9" fill="none" stroke="#008000" stroke-width="2.0" shape-rendering="crispEdges"/>
<polyline points="157.9,566.4 157.9,632.2 482.0,632.2 482.0,517.6 590.8,517.6" fill="none" stroke="#008000" stroke-width="2.0" shape-rendering="crispEdges"/>
<polyline points="222.0,648.0 222.0,713.3" fill="none" stroke="#008000" stroke-width="2.0" shape-rendering="crispEdges"/>
<polyline points="413.1,506.6 428.2,506.6 428.2,677.7 106.5,677.7" fill="none" stroke="#008000" stroke-width="2.0" shape-rendering="crispEdges"/>
<polyline points="413.1,521.5 434.5,521.5 434.5,697.7 107.2,697.7" fill="none" stroke="#008000" stroke-width="2.0" shape-rendering="crispEdges"/>
<polyline points="413.1,536.5 468.0,536.5 468.0,266.9 529.5,266.9" fill="none" stroke="#008000" stroke-width="2.0" shape-rendering="crispEdges"/>
<polyline points="413.1,551.5 474.0,551.5 474.0,326.8 602.6,326.8 602.6,266.9 607.0,266.9" fill="none" stroke="#008000" stroke-width="2.0" shape-rendering="crispEdges"/>
<polyline points="413.1,461.8 543.6,461.8 543.6,342.0 709.0,342.0 709.0,266.9 713.0,266.9" fill="none" stroke="#008000" stroke-width="2.0" shape-rendering="crispEdges"/>
<polyline points="413.1,446.8 554.9,446.8 554.9,357.1 823.8,357.1 823.8,266.9 828.0,266.9" fill="none" stroke="#008000" stroke-width="2.0" shape-rendering="crispEdges"/>
<text x="24.3" y="670.2" font-family="Liberation Sans" font-size="12.8" fill="#000" font-weight="normal" text-anchor="start" textLength="79.7" lengthAdjust="spacingAndGlyphs" stroke="#000" stroke-width="0.0" >TTL midi IN signal</text>
<text x="25.1" y="681.0" font-family="Liberation Sans" font-size="12.8" fill="#000" font-weight="normal" text-anchor="start" textLength="48.8" lengthAdjust="spacingAndGlyphs" stroke="#000" stroke-width="0.0" >from part 1</text>
<text x="21.3" y="700.4" font-family="Liberation Sans" font-size="12.8" fill="#000" font-weight="normal" text-anchor="start" textLength="81.9" lengthAdjust="spacingAndGlyphs" stroke="#000" stroke-width="0.0" >to part 3, midi out</text>
<polyline points="554.0,222.4 554.0,240.4" fill="none" stroke="#800000" stroke-width="2.0" stroke-linecap="butt" shape-rendering="crispEdges"/>
<polyline points="554.0,262.4 554.0,282.0" fill="none" stroke="#800000" stroke-width="2.0" stroke-linecap="butt" shape-rendering="crispEdges"/>
<polyline points="541.0,240.4 569.8,240.4 569.8,262.4 541.0,262.4" fill="none" stroke="#800000" stroke-width="2.0" stroke-linecap="butt" shape-rendering="crispEdges"/>
<rect x="536.3" y="235.8" width="5.7" height="8.4" fill="#800000"/>
<rect x="536.3" y="245.7" width="5.7" height="11.3" fill="#800000"/>
<rect x="536.3" y="258.5" width="5.7" height="8.3" fill="#800000"/>
<polyline points="533.3,236.8 533.3,266.7 529.4,266.7" fill="none" stroke="#800000" stroke-width="2.0" stroke-linecap="butt" shape-rendering="crispEdges"/>
<polyline points="541.4,251.7 554.0,251.7 554.0,262.4" fill="none" stroke="#800000" stroke-width="2.0" stroke-linecap="butt" shape-rendering="crispEdges"/>
<polygon points="542.0,251.7 550.6,247.9 550.6,255.5" fill="#800000"/>
<circle cx="554.0" cy="240.4" r="2.3" fill="#800000"/>
<circle cx="554.0" cy="262.4" r="2.3" fill="#800000"/>
<polygon points="568.8,248.0 565.0,255.6 572.6,255.6" fill="#800000" fill-opacity="0.55" stroke="#800000" stroke-width="1.7"/>
<polyline points="563.6,250.0 565.2,248.0 572.6,248.0 574.4,245.2" fill="none" stroke="#800000" stroke-width="1.8" stroke-linecap="butt"/>
<polyline points="632.4,222.0 632.4,240.4" fill="none" stroke="#800000" stroke-width="2.0" stroke-linecap="butt" shape-rendering="crispEdges"/>
<polyline points="632.4,262.4 632.4,282.0" fill="none" stroke="#800000" stroke-width="2.0" stroke-linecap="butt" shape-rendering="crispEdges"/>
<polyline points="619.4,240.4 648.2,240.4 648.2,262.4 619.4,262.4" fill="none" stroke="#800000" stroke-width="2.0" stroke-linecap="butt" shape-rendering="crispEdges"/>
<rect x="614.7" y="235.8" width="5.7" height="8.4" fill="#800000"/>
<rect x="614.7" y="245.7" width="5.7" height="11.3" fill="#800000"/>
<rect x="614.7" y="258.5" width="5.7" height="8.3" fill="#800000"/>
<polyline points="611.7,236.8 611.7,266.7 606.5,266.7" fill="none" stroke="#800000" stroke-width="2.0" stroke-linecap="butt" shape-rendering="crispEdges"/>
<polyline points="619.8,251.7 632.4,251.7 632.4,262.4" fill="none" stroke="#800000" stroke-width="2.0" stroke-linecap="butt" shape-rendering="crispEdges"/>
<polygon points="620.4,251.7 629.0,247.9 629.0,255.5" fill="#800000"/>
<circle cx="632.4" cy="240.4" r="2.3" fill="#800000"/>
<circle cx="632.4" cy="262.4" r="2.3" fill="#800000"/>
<polygon points="647.2,248.0 643.4,255.6 651.0,255.6" fill="#800000" fill-opacity="0.55" stroke="#800000" stroke-width="1.7"/>
<polyline points="642.0,250.0 643.6,248.0 651.0,248.0 652.8,245.2" fill="none" stroke="#800000" stroke-width="1.8" stroke-linecap="butt"/>
<polyline points="739.1,222.0 739.1,240.4" fill="none" stroke="#800000" stroke-width="2.0" stroke-linecap="butt" shape-rendering="crispEdges"/>
<polyline points="739.1,262.4 739.1,282.0" fill="none" stroke="#800000" stroke-width="2.0" stroke-linecap="butt" shape-rendering="crispEdges"/>
<polyline points="726.1,240.4 754.9,240.4 754.9,262.4 726.1,262.4" fill="none" stroke="#800000" stroke-width="2.0" stroke-linecap="butt" shape-rendering="crispEdges"/>
<rect x="721.4" y="235.8" width="5.7" height="8.4" fill="#800000"/>
<rect x="721.4" y="245.7" width="5.7" height="11.3" fill="#800000"/>
<rect x="721.4" y="258.5" width="5.7" height="8.3" fill="#800000"/>
<polyline points="718.4,236.8 718.4,266.7 712.5,266.7" fill="none" stroke="#800000" stroke-width="2.0" stroke-linecap="butt" shape-rendering="crispEdges"/>
<polyline points="726.5,251.7 739.1,251.7 739.1,262.4" fill="none" stroke="#800000" stroke-width="2.0" stroke-linecap="butt" shape-rendering="crispEdges"/>
<polygon points="727.1,251.7 735.7,247.9 735.7,255.5" fill="#800000"/>
<circle cx="739.1" cy="240.4" r="2.3" fill="#800000"/>
<circle cx="739.1" cy="262.4" r="2.3" fill="#800000"/>
<polygon points="753.9,248.0 750.1,255.6 757.7,255.6" fill="#800000" fill-opacity="0.55" stroke="#800000" stroke-width="1.7"/>
<polyline points="748.7,250.0 750.3,248.0 757.7,248.0 759.5,245.2" fill="none" stroke="#800000" stroke-width="1.8" stroke-linecap="butt"/>
<polyline points="853.9,222.0 853.9,240.4" fill="none" stroke="#800000" stroke-width="2.0" stroke-linecap="butt" shape-rendering="crispEdges"/>
<polyline points="853.9,262.4 853.9,282.0" fill="none" stroke="#800000" stroke-width="2.0" stroke-linecap="butt" shape-rendering="crispEdges"/>
<polyline points="840.9,240.4 869.7,240.4 869.7,262.4 840.9,262.4" fill="none" stroke="#800000" stroke-width="2.0" stroke-linecap="butt" shape-rendering="crispEdges"/>
<rect x="836.2" y="235.8" width="5.7" height="8.4" fill="#800000"/>
<rect x="836.2" y="245.7" width="5.7" height="11.3" fill="#800000"/>
<rect x="836.2" y="258.5" width="5.7" height="8.3" fill="#800000"/>
<polyline points="833.2,236.8 833.2,266.7 827.5,266.7" fill="none" stroke="#800000" stroke-width="2.0" stroke-linecap="butt" shape-rendering="crispEdges"/>
<polyline points="841.3,251.7 853.9,251.7 853.9,262.4" fill="none" stroke="#800000" stroke-width="2.0" stroke-linecap="butt" shape-rendering="crispEdges"/>
<polygon points="841.9,251.7 850.5,247.9 850.5,255.5" fill="#800000"/>
<circle cx="853.9" cy="240.4" r="2.3" fill="#800000"/>
<circle cx="853.9" cy="262.4" r="2.3" fill="#800000"/>
<polygon points="868.7,248.0 864.9,255.6 872.5,255.6" fill="#800000" fill-opacity="0.55" stroke="#800000" stroke-width="1.7"/>
<polyline points="863.5,250.0 865.1,248.0 872.5,248.0 874.3,245.2" fill="none" stroke="#800000" stroke-width="1.8" stroke-linecap="butt"/>
<text x="-0.84 8.76" y="0" transform="translate(527.00 231.80) scale(1 0.9561)" font-family="Liberation Mono" font-size="16.64" fill="#7e7e7e" font-weight="normal" stroke="#7e7e7e" stroke-width="0.5">Q1</text>
<text x="-0.85 9.20" y="0" transform="translate(609.60 231.80) scale(1 0.9133)" font-family="Liberation Mono" font-size="17.42" fill="#7e7e7e" font-weight="normal" stroke="#7e7e7e" stroke-width="0.5">Q2</text>
<text x="-0.84 8.81" y="0" transform="translate(769.20 237.60) scale(1 0.9783)" font-family="Liberation Mono" font-size="16.73" fill="#7e7e7e" font-weight="normal" stroke="#7e7e7e" stroke-width="1.15">Q3</text>
<text x="-0.84 8.86" y="0" transform="translate(883.90 237.60) scale(1 0.9733)" font-family="Liberation Mono" font-size="16.81" fill="#7e7e7e" font-weight="normal" stroke="#7e7e7e" stroke-width="1.15">Q4</text>
<text x="556.5" y="277.0" font-family="Liberation Sans" font-size="12.4" fill="#000" font-weight="normal" text-anchor="start" textLength="30.6" lengthAdjust="spacingAndGlyphs" stroke="#000" stroke-width="0.0" >IRL640</text>
<text x="635.6" y="277.0" font-family="Liberation Sans" font-size="12.4" fill="#000" font-weight="normal" text-anchor="start" textLength="30.6" lengthAdjust="spacingAndGlyphs" stroke="#000" stroke-width="0.0" >IRL640</text>
<text x="769.9" y="257.0" font-family="Liberation Sans" font-size="12.4" fill="#000" font-weight="normal" text-anchor="start" textLength="30.6" lengthAdjust="spacingAndGlyphs" stroke="#000" stroke-width="0.0" >IRL640</text>
<text x="884.9" y="254.0" font-family="Liberation Sans" font-size="12.4" fill="#000" font-weight="normal" text-anchor="start" textLength="30.6" lengthAdjust="spacingAndGlyphs" stroke="#000" stroke-width="0.0" >IRL640</text>
<polyline points="554.0,222.4 554.0,143.6 566.0,143.6" fill="none" stroke="#008000" stroke-width="2.0" shape-rendering="crispEdges"/>
<polyline points="632.4,222.0 632.4,191.7 636.0,191.7" fill="none" stroke="#008000" stroke-width="2.0" shape-rendering="crispEdges"/>
<polyline points="739.1,222.0 739.1,191.7 752.0,191.7" fill="none" stroke="#008000" stroke-width="2.0" shape-rendering="crispEdges"/>
<polyline points="853.9,222.0 853.9,191.7 866.0,191.7" fill="none" stroke="#008000" stroke-width="2.0" shape-rendering="crispEdges"/>
<polyline points="554.0,282.0 554.0,296.5 632.4,296.5" fill="none" stroke="#008000" stroke-width="2.0" shape-rendering="crispEdges"/>
<polyline points="632.4,282.0 632.4,311.5" fill="none" stroke="#008000" stroke-width="2.0" shape-rendering="crispEdges"/>
<rect x="629.6" y="293.7" width="5.6" height="5.6" fill="#008000"/>
<polyline points="632.4,311.5 632.4,326.8" fill="none" stroke="#800000" stroke-width="2.0" stroke-linecap="butt" shape-rendering="crispEdges"/>
<polyline points="620.1,326.8 644.7,326.8" fill="none" stroke="#800000" stroke-width="2.0" stroke-linecap="butt" shape-rendering="crispEdges"/>
<polyline points="739.1,282.0 739.1,296.5 853.9,296.5" fill="none" stroke="#008000" stroke-width="2.0" shape-rendering="crispEdges"/>
<polyline points="853.9,282.0 853.9,311.5" fill="none" stroke="#008000" stroke-width="2.0" shape-rendering="crispEdges"/>
<circle cx="853.9" cy="296.5" r="3.3" fill="#008000"/>
<polyline points="853.9,311.5 853.9,326.8" fill="none" stroke="#800000" stroke-width="2.0" stroke-linecap="butt" shape-rendering="crispEdges"/>
<polyline points="842.3,326.8 864.4,326.8" fill="none" stroke="#800000" stroke-width="2.0" stroke-linecap="butt" shape-rendering="crispEdges"/>
<polygon points="563.6,143.6 566.6,141.0 584.4,141.0 584.4,146.2 566.6,146.2" fill="#800000"/>
<path d="M582.3 136.5 A7.2 7.2 0 0 1 582.3 150.7" fill="none" stroke="#800000" stroke-width="2.4"/>
<polyline points="588.5,143.6 604.0,143.6" fill="none" stroke="#800000" stroke-width="2.2" stroke-linecap="butt" shape-rendering="crispEdges"/>
<circle cx="611.2" cy="143.6" r="7.2" fill="none" stroke="#800000" stroke-width="2.5"/>
<polyline points="504.0,105.2 514.5,105.2" fill="none" stroke="#008000" stroke-width="2.0" shape-rendering="crispEdges"/>
<polygon points="513.5,105.2 516.5,102.6 533.8,102.6 533.8,107.8 516.5,107.8" fill="#800000"/>
<path d="M531.7 98.1 A7.2 7.2 0 0 1 531.7 112.3" fill="none" stroke="#800000" stroke-width="2.4"/>
<polyline points="537.9,105.2 553.4,105.2" fill="none" stroke="#800000" stroke-width="2.2" stroke-linecap="butt" shape-rendering="crispEdges"/>
<circle cx="560.6" cy="105.2" r="7.2" fill="none" stroke="#800000" stroke-width="2.5"/>
<polygon points="633.3,191.7 636.3,189.1 654.6,189.1 654.6,194.3 636.3,194.3" fill="#800000"/>
<path d="M652.5 184.6 A7.2 7.2 0 0 1 652.5 198.8" fill="none" stroke="#800000" stroke-width="2.4"/>
<polyline points="658.7,191.7 674.7,191.7" fill="none" stroke="#800000" stroke-width="2.2" stroke-linecap="butt" shape-rendering="crispEdges"/>
<circle cx="681.9" cy="191.7" r="7.2" fill="none" stroke="#800000" stroke-width="2.5"/>
<polyline points="632.4,296.5 646.8,296.5" fill="none" stroke="#800000" stroke-width="2.0" stroke-linecap="butt" shape-rendering="crispEdges"/>
<polygon points="646.3,296.5 649.3,293.9 665.8,293.9 665.8,299.1 649.3,299.1" fill="#800000"/>
<path d="M663.7 289.4 A7.2 7.2 0 0 1 663.7 303.6" fill="none" stroke="#800000" stroke-width="2.4"/>
<polyline points="669.9,296.5 685.6,296.5" fill="none" stroke="#800000" stroke-width="2.2" stroke-linecap="butt" shape-rendering="crispEdges"/>
<circle cx="692.8" cy="296.5" r="7.2" fill="none" stroke="#800000" stroke-width="2.5"/>
<polygon points="751.1,191.7 754.1,189.1 771.9,189.1 771.9,194.3 754.1,194.3" fill="#800000"/>
<path d="M769.9 184.2 A7.6 7.6 0 0 1 769.9 199.2" fill="none" stroke="#800000" stroke-width="2.4"/>
<polyline points="776.4,191.7 791.1,191.7" fill="none" stroke="#800000" stroke-width="2.2" stroke-linecap="butt" shape-rendering="crispEdges"/>
<circle cx="798.7" cy="191.7" r="7.6" fill="none" stroke="#800000" stroke-width="2.5"/>
<polygon points="864.4,191.7 867.4,189.1 885.2,189.1 885.2,194.3 867.4,194.3" fill="#800000"/>
<path d="M883.2 184.2 A7.6 7.6 0 0 1 883.2 199.2" fill="none" stroke="#800000" stroke-width="2.4"/>
<polyline points="889.7,191.7 903.9,191.7" fill="none" stroke="#800000" stroke-width="2.2" stroke-linecap="butt" shape-rendering="crispEdges"/>
<circle cx="911.5" cy="191.7" r="7.6" fill="none" stroke="#800000" stroke-width="2.5"/>
<polygon points="798.1,102.3 801.1,99.7 819.5,99.7 819.5,104.9 801.1,104.9" fill="#800000"/>
<path d="M817.5 94.6 A7.8 7.8 0 0 1 817.5 110.0" fill="none" stroke="#800000" stroke-width="2.4"/>
<polyline points="824.2,102.3 840.1,102.3" fill="none" stroke="#800000" stroke-width="2.2" stroke-linecap="butt" shape-rendering="crispEdges"/>
<circle cx="847.9" cy="102.3" r="7.8" fill="none" stroke="#800000" stroke-width="2.5"/>
<polyline points="853.9,296.5 868.1,296.5" fill="none" stroke="#800000" stroke-width="2.0" stroke-linecap="butt" shape-rendering="crispEdges"/>
<polygon points="867.6,296.5 870.6,293.9 887.2,293.9 887.2,299.1 870.6,299.1" fill="#800000"/>
<path d="M885.1 289.2 A7.4 7.4 0 0 1 885.1 303.8" fill="none" stroke="#800000" stroke-width="2.4"/>
<polyline points="891.5,296.5 907.1,296.5" fill="none" stroke="#800000" stroke-width="2.2" stroke-linecap="butt" shape-rendering="crispEdges"/>
<circle cx="914.5" cy="296.5" r="7.4" fill="none" stroke="#800000" stroke-width="2.5"/>
<text x="535.6" y="92.0" font-family="Liberation Sans" font-size="11.6" fill="#000" font-weight="normal" text-anchor="start" textLength="28.5" lengthAdjust="spacingAndGlyphs" stroke="#000" stroke-width="0.0" >X11-4</text>
<text x="592.9" y="129.5" font-family="Liberation Sans" font-size="11.6" fill="#000" font-weight="normal" text-anchor="start" textLength="27.6" lengthAdjust="spacingAndGlyphs" stroke="#000" stroke-width="0.0" >X11-2</text>
<text x="660.1" y="213.0" font-family="Liberation Sans" font-size="11.6" fill="#000" font-weight="normal" text-anchor="start" textLength="27.6" lengthAdjust="spacingAndGlyphs" stroke="#000" stroke-width="0.0" >X11-3</text>
<text x="773.7" y="212.2" font-family="Liberation Sans" font-size="11.6" fill="#000" font-weight="normal" text-anchor="start" textLength="28.0" lengthAdjust="spacingAndGlyphs" stroke="#000" stroke-width="0.0" >X12-2</text>
<text x="879.9" y="214.0" font-family="Liberation Sans" font-size="11.6" fill="#000" font-weight="normal" text-anchor="start" textLength="27.6" lengthAdjust="spacingAndGlyphs" stroke="#000" stroke-width="0.0" >X12-3</text>
<text x="814.3" y="125.3" font-family="Liberation Sans" font-size="11.6" fill="#000" font-weight="normal" text-anchor="start" textLength="28.0" lengthAdjust="spacingAndGlyphs" stroke="#000" stroke-width="0.0" >X12-4</text>
<text x="883.2" y="317.8" font-family="Liberation Sans" font-size="11.6" fill="#000" font-weight="normal" text-anchor="start" textLength="26.4" lengthAdjust="spacingAndGlyphs" stroke="#000" stroke-width="0.0" >X12-1</text>
<text x="-0.81" y="0" transform="translate(637.60 295.20) scale(1 0.9862)" font-family="Liberation Mono" font-size="13.52" fill="#7e7e7e" font-weight="normal" stroke="#7e7e7e" stroke-width="1.15">1</text>
<text x="-0.81" y="0" transform="translate(859.60 295.20) scale(1 0.9862)" font-family="Liberation Mono" font-size="13.52" fill="#7e7e7e" font-weight="normal" stroke="#7e7e7e" stroke-width="1.15">1</text>
<text x="-0.82" y="0" transform="translate(743.20 190.40) scale(1 0.9158)" font-family="Liberation Mono" font-size="14.56" fill="#7e7e7e" font-weight="normal" stroke="#7e7e7e" stroke-width="1.15">2</text>
<text x="-0.83" y="0" transform="translate(855.80 190.40) scale(1 0.8741)" font-family="Liberation Mono" font-size="15.25" fill="#7e7e7e" font-weight="normal" stroke="#7e7e7e" stroke-width="1.15">3</text>
<text x="770.2" y="169.9" font-family="Liberation Sans" font-size="13.2" fill="#000" font-weight="normal" text-anchor="start" textLength="52.1" lengthAdjust="spacingAndGlyphs" stroke="#000" stroke-width="0.0" >front light</text>
<text x="867.6" y="169.2" font-family="Liberation Sans" font-size="13.2" fill="#000" font-weight="normal" text-anchor="start" textLength="47.9" lengthAdjust="spacingAndGlyphs" stroke="#000" stroke-width="0.0" >back lite</text>
<rect x="495.8" y="264.6" width="4.6" height="4.6" fill="#008000"/>
<polyline points="498.2,266.9 498.2,275.9" fill="none" stroke="#800000" stroke-width="2.0" stroke-linecap="butt" shape-rendering="crispEdges"/>
<polyline points="498.2,306.4 498.2,316.6" fill="none" stroke="#800000" stroke-width="2.0" stroke-linecap="butt" shape-rendering="crispEdges"/>
<rect x="491.6" y="275.9" width="13.2" height="30.5" fill="none" stroke="#800000" stroke-width="2.0" rx="0"/>
<polyline points="492.4,316.6 504.0,316.6" fill="none" stroke="#008000" stroke-width="2.0" shape-rendering="crispEdges"/>
<text x="511.9" y="298.3" font-family="Liberation Sans" font-size="11.0" fill="#000" font-weight="normal" text-anchor="start" textLength="22.6" lengthAdjust="spacingAndGlyphs" stroke="#000" stroke-width="0.0" >120k</text>
<rect x="495.8" y="324.5" width="4.6" height="4.6" fill="#008000"/>
<polyline points="498.2,326.8 498.2,335.8" fill="none" stroke="#800000" stroke-width="2.0" stroke-linecap="butt" shape-rendering="crispEdges"/>
<polyline points="498.2,366.2 498.2,376.8" fill="none" stroke="#800000" stroke-width="2.0" stroke-linecap="butt" shape-rendering="crispEdges"/>
<rect x="491.6" y="335.8" width="13.2" height="30.4" fill="none" stroke="#800000" stroke-width="2.0" rx="0"/>
<polyline points="492.4,376.8 504.0,376.8" fill="none" stroke="#008000" stroke-width="2.0" shape-rendering="crispEdges"/>
<text x="510.7" y="376.2" font-family="Liberation Sans" font-size="11.0" fill="#000" font-weight="normal" text-anchor="start" textLength="22.6" lengthAdjust="spacingAndGlyphs" stroke="#000" stroke-width="0.0" >120k</text>
<rect x="578.6" y="354.8" width="4.6" height="4.6" fill="#008000"/>
<polyline points="581.4,357.1 581.4,365.5" fill="none" stroke="#800000" stroke-width="2.0" stroke-linecap="butt" shape-rendering="crispEdges"/>
<polyline points="581.4,396.2 581.4,406.8" fill="none" stroke="#800000" stroke-width="2.0" stroke-linecap="butt" shape-rendering="crispEdges"/>
<rect x="574.8" y="365.5" width="13.2" height="30.7" fill="none" stroke="#800000" stroke-width="2.0" rx="0"/>
<polyline points="575.6,406.8 587.2,406.8" fill="none" stroke="#008000" stroke-width="2.0" shape-rendering="crispEdges"/>
<text x="566.8" y="422.2" font-family="Liberation Sans" font-size="11.0" fill="#000" font-weight="normal" text-anchor="start" textLength="22.6" lengthAdjust="spacingAndGlyphs" stroke="#000" stroke-width="0.0" >120k</text>
<rect x="541.3" y="459.4" width="4.6" height="4.6" fill="#008000"/>
<polyline points="544.1,461.8 544.1,470.4" fill="none" stroke="#800000" stroke-width="2.0" stroke-linecap="butt" shape-rendering="crispEdges"/>
<polyline points="544.1,501.0 544.1,510.6" fill="none" stroke="#800000" stroke-width="2.0" stroke-linecap="butt" shape-rendering="crispEdges"/>
<rect x="537.5" y="470.4" width="13.2" height="30.6" fill="none" stroke="#800000" stroke-width="2.0" rx="0"/>
<polyline points="537.1,510.6 551.1,510.6" fill="none" stroke="#008000" stroke-width="2.0" shape-rendering="crispEdges"/>
<text x="556.7" y="492.3" font-family="Liberation Sans" font-size="11.0" fill="#000" font-weight="normal" text-anchor="start" textLength="22.6" lengthAdjust="spacingAndGlyphs" stroke="#000" stroke-width="0.0" >120k</text>
<polyline points="650.5,14.5 710.0,14.5" fill="none" stroke="#000" stroke-width="1.0" shape-rendering="crispEdges"/>
<polyline points="650.5,52.5 650.5,144.5 619.5,144.5" fill="none" stroke="#000" stroke-width="1.0" shape-rendering="crispEdges"/>
<polyline points="671.5,52.5 671.5,165.5 682.5,165.5 682.5,184.0" fill="none" stroke="#000" stroke-width="1.0" shape-rendering="crispEdges"/>
<polyline points="650.5,14.5 650.5,24.5" fill="none" stroke="#000" stroke-width="1.0" shape-rendering="crispEdges"/>
<rect x="645.5" y="24.5" width="11" height="28" fill="#fff" stroke="#000" stroke-width="1" shape-rendering="crispEdges"/>
<polygon points="644.5,61.5 656.5,61.5 650.5,68.5" fill="#fff" stroke="#000" stroke-width="1"/>
<polyline points="644.5,68.5 656.5,68.5" fill="none" stroke="#000" stroke-width="1.0" shape-rendering="crispEdges"/>
<polygon points="644.5,76.5 656.5,76.5 650.5,83.5" fill="#fff" stroke="#000" stroke-width="1"/>
<polyline points="644.5,83.5 656.5,83.5" fill="none" stroke="#000" stroke-width="1.0" shape-rendering="crispEdges"/>
<polygon points="644.5,90.5 656.5,90.5 650.5,97.5" fill="#fff" stroke="#000" stroke-width="1"/>
<polyline points="644.5,97.5 656.5,97.5" fill="none" stroke="#000" stroke-width="1.0" shape-rendering="crispEdges"/>
<polygon points="644.5,104.5 656.5,104.5 650.5,111.5" fill="#fff" stroke="#000" stroke-width="1"/>
<polyline points="644.5,111.5 656.5,111.5" fill="none" stroke="#000" stroke-width="1.0" shape-rendering="crispEdges"/>
<polygon points="644.5,119.5 656.5,119.5 650.5,126.5" fill="#fff" stroke="#000" stroke-width="1"/>
<polyline points="644.5,126.5 656.5,126.5" fill="none" stroke="#000" stroke-width="1.0" shape-rendering="crispEdges"/>
<polyline points="671.5,14.5 671.5,24.5" fill="none" stroke="#000" stroke-width="1.0" shape-rendering="crispEdges"/>
<rect x="665.5" y="24.5" width="12" height="28" fill="#fff" stroke="#000" stroke-width="1" shape-rendering="crispEdges"/>
<polygon points="665.5,61.5 677.5,61.5 671.5,68.5" fill="#fff" stroke="#000" stroke-width="1"/>
<polyline points="665.5,68.5 677.5,68.5" fill="none" stroke="#000" stroke-width="1.0" shape-rendering="crispEdges"/>
<polygon points="665.5,76.5 677.5,76.5 671.5,83.5" fill="#fff" stroke="#000" stroke-width="1"/>
<polyline points="665.5,83.5 677.5,83.5" fill="none" stroke="#000" stroke-width="1.0" shape-rendering="crispEdges"/>
<polygon points="665.5,90.5 677.5,90.5 671.5,97.5" fill="#fff" stroke="#000" stroke-width="1"/>
<polyline points="665.5,97.5 677.5,97.5" fill="none" stroke="#000" stroke-width="1.0" shape-rendering="crispEdges"/>
<polygon points="665.5,104.5 677.5,104.5 671.5,111.5" fill="#fff" stroke="#000" stroke-width="1"/>
<polyline points="665.5,111.5 677.5,111.5" fill="none" stroke="#000" stroke-width="1.0" shape-rendering="crispEdges"/>
<polygon points="665.5,119.5 677.5,119.5 671.5,126.5" fill="#fff" stroke="#000" stroke-width="1"/>
<polyline points="665.5,126.5 677.5,126.5" fill="none" stroke="#000" stroke-width="1.0" shape-rendering="crispEdges"/>
<text x="712.2" y="18.0" font-family="Liberation Sans" font-size="10.6" fill="#000" font-weight="normal" text-anchor="start" textLength="74.5" lengthAdjust="spacingAndGlyphs" stroke="#000" stroke-width="0.0" >+12/17V supply</text>
<text x="629.0" y="31.8" font-family="Liberation Sans" font-size="10.4" fill="#000" font-weight="normal" text-anchor="start" textLength="11.3" lengthAdjust="spacingAndGlyphs" stroke="#000" stroke-width="0.0" >22</text>
<text x="683.9" y="30.1" font-family="Liberation Sans" font-size="10.4" fill="#000" font-weight="normal" text-anchor="start" textLength="11.4" lengthAdjust="spacingAndGlyphs" stroke="#000" stroke-width="0.0" >22</text>
<text x="681.0" y="74.8" font-family="Liberation Sans" font-size="10.6" fill="#000" font-weight="normal" text-anchor="start" textLength="49.2" lengthAdjust="spacingAndGlyphs" stroke="#000" stroke-width="0.0" >LED-strips</text>
<text x="689.9" y="90.7" font-family="Liberation Sans" font-size="10.6" fill="#000" font-weight="normal" text-anchor="start" textLength="33.4" lengthAdjust="spacingAndGlyphs" stroke="#000" stroke-width="0.0" >250mA</text>
<polyline points="616.8,472.7 616.8,491.6" fill="none" stroke="#800000" stroke-width="2.0" stroke-linecap="butt" shape-rendering="crispEdges"/>
<polyline points="616.8,513.6 616.8,532.8" fill="none" stroke="#800000" stroke-width="2.0" stroke-linecap="butt" shape-rendering="crispEdges"/>
<polyline points="603.8,491.6 632.6,491.6 632.6,513.6 603.8,513.6" fill="none" stroke="#800000" stroke-width="2.0" stroke-linecap="butt" shape-rendering="crispEdges"/>
<rect x="599.1" y="487.0" width="5.7" height="8.4" fill="#800000"/>
<rect x="599.1" y="496.9" width="5.7" height="11.3" fill="#800000"/>
<rect x="599.1" y="509.7" width="5.7" height="8.3" fill="#800000"/>
<polyline points="596.1,488.0 596.1,517.9 590.8,517.9" fill="none" stroke="#800000" stroke-width="2.0" stroke-linecap="butt" shape-rendering="crispEdges"/>
<polyline points="604.2,502.9 616.8,502.9 616.8,513.6" fill="none" stroke="#800000" stroke-width="2.0" stroke-linecap="butt" shape-rendering="crispEdges"/>
<polygon points="604.8,502.9 613.4,499.1 613.4,506.7" fill="#800000"/>
<circle cx="616.8" cy="491.6" r="2.3" fill="#800000"/>
<circle cx="616.8" cy="513.6" r="2.3" fill="#800000"/>
<polygon points="631.6,499.2 627.8,506.8 635.4,506.8" fill="#800000" fill-opacity="0.55" stroke="#800000" stroke-width="1.7"/>
<polyline points="626.4,501.2 628.0,499.2 635.4,499.2 637.2,496.4" fill="none" stroke="#800000" stroke-width="1.8" stroke-linecap="butt"/>
<polyline points="766.7,472.7 766.7,491.6" fill="none" stroke="#800000" stroke-width="2.0" stroke-linecap="butt" shape-rendering="crispEdges"/>
<polyline points="766.7,513.6 766.7,532.8" fill="none" stroke="#800000" stroke-width="2.0" stroke-linecap="butt" shape-rendering="crispEdges"/>
<polyline points="753.7,491.6 782.5,491.6 782.5,513.6 753.7,513.6" fill="none" stroke="#800000" stroke-width="2.0" stroke-linecap="butt" shape-rendering="crispEdges"/>
<rect x="749.0" y="487.0" width="5.7" height="8.4" fill="#800000"/>
<rect x="749.0" y="496.9" width="5.7" height="11.3" fill="#800000"/>
<rect x="749.0" y="509.7" width="5.7" height="8.3" fill="#800000"/>
<polyline points="746.0,488.0 746.0,517.9 737.1,517.9" fill="none" stroke="#800000" stroke-width="2.0" stroke-linecap="butt" shape-rendering="crispEdges"/>
<polyline points="754.1,502.9 766.7,502.9 766.7,513.6" fill="none" stroke="#800000" stroke-width="2.0" stroke-linecap="butt" shape-rendering="crispEdges"/>
<polygon points="754.7,502.9 763.3,499.1 763.3,506.7" fill="#800000"/>
<circle cx="766.7" cy="491.6" r="2.3" fill="#800000"/>
<circle cx="766.7" cy="513.6" r="2.3" fill="#800000"/>
<polygon points="781.5,499.2 777.7,506.8 785.3,506.8" fill="#800000" fill-opacity="0.55" stroke="#800000" stroke-width="1.7"/>
<polyline points="776.3,501.2 777.9,499.2 785.3,499.2 787.1,496.4" fill="none" stroke="#800000" stroke-width="1.8" stroke-linecap="butt"/>
<text x="-0.84 8.56" y="0" transform="translate(622.60 487.20) scale(1 1.0043)" font-family="Liberation Mono" font-size="16.29" fill="#7e7e7e" font-weight="normal" stroke="#7e7e7e" stroke-width="0.5">Q6</text>
<text x="-0.84 8.86" y="0" transform="translate(771.90 486.60) scale(1 0.9733)" font-family="Liberation Mono" font-size="16.81" fill="#7e7e7e" font-weight="normal" stroke="#7e7e7e" stroke-width="0.5">Q7</text>
<text x="621.8" y="526.6" font-family="Liberation Sans" font-size="12.4" fill="#000" font-weight="normal" text-anchor="start" textLength="30.6" lengthAdjust="spacingAndGlyphs" stroke="#000" stroke-width="0.0" >IRL640</text>
<text x="770.6" y="526.6" font-family="Liberation Sans" font-size="12.4" fill="#000" font-weight="normal" text-anchor="start" textLength="30.6" lengthAdjust="spacingAndGlyphs" stroke="#000" stroke-width="0.0" >IRL640</text>
<polyline points="616.8,472.7 616.8,442.6 631.4,442.6" fill="none" stroke="#008000" stroke-width="2.0" shape-rendering="crispEdges"/>
<polyline points="766.7,472.7 766.7,442.6 781.7,442.6" fill="none" stroke="#008000" stroke-width="2.0" shape-rendering="crispEdges"/>
<polyline points="631.4,442.6 645.6,442.6" fill="none" stroke="#800000" stroke-width="2.0" stroke-linecap="butt" shape-rendering="crispEdges"/>
<polygon points="645.1,442.6 648.1,440.0 664.2,440.0 664.2,445.2 648.1,445.2" fill="#800000"/>
<path d="M662.1 435.2 A7.5 7.5 0 0 1 662.1 450.0" fill="none" stroke="#800000" stroke-width="2.4"/>
<polyline points="668.6,442.6 684.5,442.6" fill="none" stroke="#800000" stroke-width="2.2" stroke-linecap="butt" shape-rendering="crispEdges"/>
<circle cx="692.0" cy="442.6" r="7.5" fill="none" stroke="#800000" stroke-width="2.5"/>
<polyline points="781.7,442.6 795.0,442.6" fill="none" stroke="#800000" stroke-width="2.0" stroke-linecap="butt" shape-rendering="crispEdges"/>
<polygon points="794.5,442.6 797.5,440.0 813.8,440.0 813.8,445.2 797.5,445.2" fill="#800000"/>
<path d="M811.7 435.3 A7.4 7.4 0 0 1 811.7 449.9" fill="none" stroke="#800000" stroke-width="2.4"/>
<polyline points="818.1,442.6 834.4,442.6" fill="none" stroke="#800000" stroke-width="2.2" stroke-linecap="butt" shape-rendering="crispEdges"/>
<circle cx="841.8" cy="442.6" r="7.4" fill="none" stroke="#800000" stroke-width="2.5"/>
<polyline points="616.8,532.8 616.8,547.8 796.7,547.8" fill="none" stroke="#008000" stroke-width="2.0" shape-rendering="crispEdges"/>
<polyline points="766.7,532.8 766.7,555.4" fill="none" stroke="#008000" stroke-width="2.0" shape-rendering="crispEdges"/>
<circle cx="766.7" cy="547.8" r="3.6" fill="#008000"/>
<polyline points="766.7,555.4 766.7,569.9" fill="none" stroke="#800000" stroke-width="2.0" stroke-linecap="butt" shape-rendering="crispEdges"/>
<polyline points="754.6,569.9 779.2,569.9" fill="none" stroke="#800000" stroke-width="2.0" stroke-linecap="butt" shape-rendering="crispEdges"/>
<polyline points="796.7,547.8 803.7,547.8" fill="none" stroke="#800000" stroke-width="2.0" stroke-linecap="butt" shape-rendering="crispEdges"/>
<polygon points="803.2,547.8 806.2,545.2 820.0,545.2 820.0,550.4 806.2,550.4" fill="#800000"/>
<path d="M817.9 540.6 A7.3 7.3 0 0 1 817.9 555.0" fill="none" stroke="#800000" stroke-width="2.4"/>
<polyline points="824.2,547.8 840.3,547.8" fill="none" stroke="#800000" stroke-width="2.2" stroke-linecap="butt" shape-rendering="crispEdges"/>
<circle cx="847.6" cy="547.8" r="7.3" fill="none" stroke="#800000" stroke-width="2.5"/>
<text x="661.9" y="430.6" font-family="Liberation Sans" font-size="11.6" fill="#000" font-weight="normal" text-anchor="start" textLength="27.6" lengthAdjust="spacingAndGlyphs" stroke="#000" stroke-width="0.0" >X15-2</text>
<text x="811.8" y="431.8" font-family="Liberation Sans" font-size="11.6" fill="#000" font-weight="normal" text-anchor="start" textLength="27.6" lengthAdjust="spacingAndGlyphs" stroke="#000" stroke-width="0.0" >X15-3</text>
<text x="818.0" y="536.0" font-family="Liberation Sans" font-size="11.6" fill="#000" font-weight="normal" text-anchor="start" textLength="27.2" lengthAdjust="spacingAndGlyphs" stroke="#000" stroke-width="0.0" >X15-1</text>
<text x="645.6" y="467.7" font-family="Liberation Sans" font-size="13.2" fill="#000" font-weight="normal" text-anchor="start" textLength="65.4" lengthAdjust="spacingAndGlyphs" stroke="#000" stroke-width="0.0" >front left lite</text>
<text x="646.4" y="482.7" font-family="Liberation Sans" font-size="10.6" fill="#000" font-weight="normal" text-anchor="start" textLength="66.4" lengthAdjust="spacingAndGlyphs" stroke="#000" stroke-width="0.0" >4xYellow LED</text>
<text x="804.2" y="468.9" font-family="Liberation Sans" font-size="13.2" fill="#000" font-weight="normal" text-anchor="start" textLength="81.5" lengthAdjust="spacingAndGlyphs" stroke="#000" stroke-width="0.0" >front right light</text>
<text x="804.2" y="484.4" font-family="Liberation Sans" font-size="10.6" fill="#000" font-weight="normal" text-anchor="start" textLength="68.2" lengthAdjust="spacingAndGlyphs" stroke="#000" stroke-width="0.0" >4xYellow LED</text>
<rect x="572.7" y="515.3" width="4.6" height="4.6" fill="#008000"/>
<polyline points="575.4,517.6 575.4,526.4" fill="none" stroke="#800000" stroke-width="2.0" stroke-linecap="butt" shape-rendering="crispEdges"/>
<rect x="568.8" y="526.4" width="13.6" height="30.5" fill="none" stroke="#800000" stroke-width="2.0" rx="0"/>
<polyline points="575.4,556.9 575.4,566.7" fill="none" stroke="#800000" stroke-width="2.0" stroke-linecap="butt" shape-rendering="crispEdges"/>
<polyline points="575.4,566.0 575.4,587.7" fill="none" stroke="#008000" stroke-width="2.0" shape-rendering="crispEdges"/>
<polyline points="569.2,587.7 580.6,587.7" fill="none" stroke="#008000" stroke-width="2.0" shape-rendering="crispEdges"/>
<text x="541.6" y="542.6" font-family="Liberation Sans" font-size="11.0" fill="#000" font-weight="normal" text-anchor="start" textLength="22.6" lengthAdjust="spacingAndGlyphs" stroke="#000" stroke-width="0.0" >120k</text>
<polyline points="737.1,517.6 737.1,566.7" fill="none" stroke="#008000" stroke-width="2.0" shape-rendering="crispEdges"/>
<polyline points="737.4,566.7 737.4,575.4" fill="none" stroke="#800000" stroke-width="2.0" stroke-linecap="butt" shape-rendering="crispEdges"/>
<polyline points="737.4,606.0 737.4,616.0" fill="none" stroke="#800000" stroke-width="2.0" stroke-linecap="butt" shape-rendering="crispEdges"/>
<rect x="730.4" y="575.4" width="14.0" height="30.6" fill="none" stroke="#800000" stroke-width="2.0" rx="0"/>
<polyline points="729.8,616.0 745.0,616.0" fill="none" stroke="#008000" stroke-width="2.0" shape-rendering="crispEdges"/>
<text x="704.5" y="595.0" font-family="Liberation Sans" font-size="11.0" fill="#000" font-weight="normal" text-anchor="start" textLength="22.6" lengthAdjust="spacingAndGlyphs" stroke="#000" stroke-width="0.0" >120k</text>
<polyline points="222.4,713.3 222.4,720.5" fill="none" stroke="#800000" stroke-width="2.0" stroke-linecap="butt" shape-rendering="crispEdges"/>
<polyline points="222.4,751.2 222.4,761.6" fill="none" stroke="#800000" stroke-width="2.0" stroke-linecap="butt" shape-rendering="crispEdges"/>
<rect x="215.6" y="720.5" width="13.6" height="30.7" fill="none" stroke="#800000" stroke-width="2.0" rx="0"/>
<polyline points="216.6,761.6 228.2,761.6" fill="none" stroke="#008000" stroke-width="2.0" shape-rendering="crispEdges"/>
<text x="188.5" y="740.2" font-family="Liberation Sans" font-size="11.0" fill="#000" font-weight="normal" text-anchor="start" textLength="22.6" lengthAdjust="spacingAndGlyphs" stroke="#000" stroke-width="0.0" >120k</text>
<polyline points="172.9,812.3 172.9,830.4" fill="none" stroke="#800000" stroke-width="2.0" stroke-linecap="butt" shape-rendering="crispEdges"/>
<polyline points="172.9,852.4 172.9,871.9" fill="none" stroke="#800000" stroke-width="2.0" stroke-linecap="butt" shape-rendering="crispEdges"/>
<polyline points="159.9,830.4 188.7,830.4 188.7,852.4 159.9,852.4" fill="none" stroke="#800000" stroke-width="2.0" stroke-linecap="butt" shape-rendering="crispEdges"/>
<rect x="155.2" y="825.8" width="5.7" height="8.4" fill="#800000"/>
<rect x="155.2" y="835.7" width="5.7" height="11.3" fill="#800000"/>
<rect x="155.2" y="848.5" width="5.7" height="8.3" fill="#800000"/>
<polyline points="152.2,826.8 152.2,856.7 142.8,856.7" fill="none" stroke="#800000" stroke-width="2.0" stroke-linecap="butt" shape-rendering="crispEdges"/>
<polyline points="160.3,841.7 172.9,841.7 172.9,852.4" fill="none" stroke="#800000" stroke-width="2.0" stroke-linecap="butt" shape-rendering="crispEdges"/>
<polygon points="160.9,841.7 169.5,837.9 169.5,845.5" fill="#800000"/>
<circle cx="172.9" cy="830.4" r="2.3" fill="#800000"/>
<circle cx="172.9" cy="852.4" r="2.3" fill="#800000"/>
<polygon points="187.7,838.0 183.9,845.6 191.5,845.6" fill="#800000" fill-opacity="0.55" stroke="#800000" stroke-width="1.7"/>
<polyline points="182.5,840.0 184.1,838.0 191.5,838.0 193.3,835.2" fill="none" stroke="#800000" stroke-width="1.8" stroke-linecap="butt"/>
<polyline points="282.0,812.3 282.0,830.4" fill="none" stroke="#800000" stroke-width="2.0" stroke-linecap="butt" shape-rendering="crispEdges"/>
<polyline points="282.0,852.4 282.0,871.9" fill="none" stroke="#800000" stroke-width="2.0" stroke-linecap="butt" shape-rendering="crispEdges"/>
<polyline points="269.0,830.4 297.8,830.4 297.8,852.4 269.0,852.4" fill="none" stroke="#800000" stroke-width="2.0" stroke-linecap="butt" shape-rendering="crispEdges"/>
<rect x="264.3" y="825.8" width="5.7" height="8.4" fill="#800000"/>
<rect x="264.3" y="835.7" width="5.7" height="11.3" fill="#800000"/>
<rect x="264.3" y="848.5" width="5.7" height="8.3" fill="#800000"/>
<polyline points="261.3,826.8 261.3,856.7 260.0,856.7" fill="none" stroke="#800000" stroke-width="2.0" stroke-linecap="butt" shape-rendering="crispEdges"/>
<polyline points="269.4,841.7 282.0,841.7 282.0,852.4" fill="none" stroke="#800000" stroke-width="2.0" stroke-linecap="butt" shape-rendering="crispEdges"/>
<polygon points="270.0,841.7 278.6,837.9 278.6,845.5" fill="#800000"/>
<circle cx="282.0" cy="830.4" r="2.3" fill="#800000"/>
<circle cx="282.0" cy="852.4" r="2.3" fill="#800000"/>
<polygon points="296.8,838.0 293.0,845.6 300.6,845.6" fill="#800000" fill-opacity="0.55" stroke="#800000" stroke-width="1.7"/>
<polyline points="291.6,840.0 293.2,838.0 300.6,838.0 302.4,835.2" fill="none" stroke="#800000" stroke-width="1.8" stroke-linecap="butt"/>
<polyline points="142.8,856.9 128.3,856.9" fill="none" stroke="#008000" stroke-width="2.0" shape-rendering="crispEdges"/>
<rect x="126.4" y="855.0" width="3.8" height="3.8" fill="#008000"/>
<text x="-0.84 8.56" y="0" transform="translate(177.40 824.80) scale(1 0.9485)" font-family="Liberation Mono" font-size="16.29" fill="#7e7e7e" font-weight="normal" stroke="#7e7e7e" stroke-width="0.5">Q8</text>
<text x="-0.84 8.56" y="0" transform="translate(287.80 824.80) scale(1 0.9485)" font-family="Liberation Mono" font-size="16.29" fill="#7e7e7e" font-weight="normal" stroke="#7e7e7e" stroke-width="0.5">Q9</text>
<text x="180.4" y="870.8" font-family="Liberation Sans" font-size="12.4" fill="#000" font-weight="normal" text-anchor="start" textLength="30.6" lengthAdjust="spacingAndGlyphs" stroke="#000" stroke-width="0.0" >IRL640</text>
<text x="291.0" y="870.8" font-family="Liberation Sans" font-size="12.4" fill="#000" font-weight="normal" text-anchor="start" textLength="30.6" lengthAdjust="spacingAndGlyphs" stroke="#000" stroke-width="0.0" >IRL640</text>
<polyline points="128.6,856.9 128.6,865.4" fill="none" stroke="#800000" stroke-width="2.0" stroke-linecap="butt" shape-rendering="crispEdges"/>
<polyline points="128.6,896.2 128.6,906.2" fill="none" stroke="#800000" stroke-width="2.0" stroke-linecap="butt" shape-rendering="crispEdges"/>
<rect x="121.9" y="865.4" width="13.4" height="30.8" fill="none" stroke="#800000" stroke-width="2.0" rx="0"/>
<polyline points="128.6,906.2 172.9,906.2" fill="none" stroke="#008000" stroke-width="2.0" shape-rendering="crispEdges"/>
<text x="94.0" y="882.4" font-family="Liberation Sans" font-size="11.0" fill="#000" font-weight="normal" text-anchor="start" textLength="22.6" lengthAdjust="spacingAndGlyphs" stroke="#000" stroke-width="0.0" >120k</text>
<polyline points="172.9,812.3 172.9,781.5 462.2,781.5 462.2,826.8 480.0,826.8" fill="none" stroke="#008000" stroke-width="2.0" shape-rendering="crispEdges"/>
<polyline points="172.9,871.9 172.9,901.2" fill="none" stroke="#008000" stroke-width="2.0" shape-rendering="crispEdges"/>
<polyline points="172.9,886.2 480.0,886.2" fill="none" stroke="#008000" stroke-width="2.0" shape-rendering="crispEdges"/>
<circle cx="172.9" cy="886.2" r="3.5" fill="#008000"/>
<rect x="171.3" y="904.6" width="3.2" height="3.2" fill="#008000"/>
<polyline points="172.9,901.2 172.9,916.3" fill="none" stroke="#800000" stroke-width="2.0" stroke-linecap="butt" shape-rendering="crispEdges"/>
<polyline points="161.6,916.3 184.9,916.3" fill="none" stroke="#800000" stroke-width="2.0" stroke-linecap="butt" shape-rendering="crispEdges"/>
<polyline points="282.0,871.9 282.0,886.2" fill="none" stroke="#008000" stroke-width="2.0" shape-rendering="crispEdges"/>
<circle cx="282.0" cy="886.2" r="3.3" fill="#008000"/>
<polyline points="282.0,812.3 282.0,778.4" fill="none" stroke="#008000" stroke-width="2.0" shape-rendering="crispEdges"/>
<circle cx="282.0" cy="796.0" r="3.3" fill="#008000"/>
<polyline points="282.0,728.3 282.0,733.8" fill="none" stroke="#800000" stroke-width="2.0" stroke-linecap="butt" shape-rendering="crispEdges"/>
<rect x="277.0" y="733.8" width="10.0" height="30.6" fill="none" stroke="#800000" stroke-width="2.0" rx="0"/>
<polyline points="282.0,764.7 282.0,778.4" fill="none" stroke="#800000" stroke-width="2.0" stroke-linecap="butt" shape-rendering="crispEdges"/>
<polyline points="282.0,728.5 282.0,722.2 477.1,722.2 477.1,796.6" fill="none" stroke="#008000" stroke-width="2.0" shape-rendering="crispEdges"/>
<text x="-0.83 8.07 16.97" y="0" transform="translate(273.00 754.40) rotate(-90) scale(1 0.9822)" font-family="Liberation Mono" font-size="15.43" fill="#7e7e7e" font-weight="normal" stroke="#7e7e7e" stroke-width="0.55">2k2</text>
<text x="-0.84 8.82 18.49" y="0" transform="translate(302.40 756.80) rotate(-90) scale(1 0.9043)" font-family="Liberation Mono" font-size="16.76" fill="#7e7e7e" font-weight="normal" stroke="#7e7e7e" stroke-width="0.55">R22</text>
<text x="313.3" y="772.9" font-family="Liberation Sans" font-size="10.6" fill="#000" font-weight="normal" text-anchor="start" textLength="35.9" lengthAdjust="spacingAndGlyphs" stroke="#000" stroke-width="0.0" >1N5819</text>
<polyline points="282.0,796.0 298.0,796.0" fill="none" stroke="#008000" stroke-width="2.0" shape-rendering="crispEdges"/>
<polyline points="297.8,796.0 327.9,796.0" fill="none" stroke="#800000" stroke-width="2.0" stroke-linecap="butt" shape-rendering="crispEdges"/>
<polygon points="304.3,788.4 304.3,804.2 319.1,796.0" fill="#fff" stroke="#800000" stroke-width="1.9"/>
<polyline points="319.3,787.8 319.3,804.8" fill="none" stroke="#800000" stroke-width="2.0" stroke-linecap="butt" shape-rendering="crispEdges"/>
<text x="-0.84 8.86" y="0" transform="translate(326.00 794.60) scale(1 0.9462)" font-family="Liberation Mono" font-size="16.81" fill="#7e7e7e" font-weight="normal" stroke="#7e7e7e" stroke-width="0.5">D6</text>
<polyline points="327.9,796.0 446.9,796.0 446.9,856.9 480.0,856.9" fill="none" stroke="#008000" stroke-width="2.0" shape-rendering="crispEdges"/>
<circle cx="371.4" cy="796.0" r="3.3" fill="#008000"/>
<circle cx="371.4" cy="886.2" r="3.3" fill="#008000"/>
<polyline points="371.6,796.0 371.6,812.3" fill="none" stroke="#008000" stroke-width="2.0" shape-rendering="crispEdges"/>
<polyline points="371.6,871.9 371.6,886.2" fill="none" stroke="#008000" stroke-width="2.0" shape-rendering="crispEdges"/>
<polyline points="371.6,812.3 371.6,826.8" fill="none" stroke="#800000" stroke-width="2.0" stroke-linecap="butt" shape-rendering="crispEdges"/>
<polyline points="371.6,857.4 371.6,871.9" fill="none" stroke="#800000" stroke-width="2.0" stroke-linecap="butt" shape-rendering="crispEdges"/>
<rect x="366.4" y="826.8" width="10.4" height="30.6" fill="none" stroke="#800000" stroke-width="2.0" rx="0"/>
<text x="344.6" y="841.8" font-family="Liberation Sans" font-size="11.0" fill="#000" font-weight="normal" text-anchor="start" textLength="14.6" lengthAdjust="spacingAndGlyphs" stroke="#000" stroke-width="0.0" >10k</text>
<text x="-0.84 8.86 18.56" y="0" transform="translate(391.60 849.00) rotate(-90) scale(1 0.9192)" font-family="Liberation Mono" font-size="16.81" fill="#7e7e7e" font-weight="normal" stroke="#7e7e7e" stroke-width="0.55">R25</text>
<circle cx="431.6" cy="796.0" r="3.3" fill="#008000"/>
<circle cx="431.6" cy="886.2" r="3.3" fill="#008000"/>
<polyline points="431.9,796.0 431.9,827.3" fill="none" stroke="#008000" stroke-width="2.0" shape-rendering="crispEdges"/>
<polyline points="431.9,827.3 431.9,848.6" fill="none" stroke="#800000" stroke-width="2.0" stroke-linecap="butt" shape-rendering="crispEdges"/>
<rect x="423.2" y="849.0" width="18.4" height="4.4" fill="none" stroke="#800000" stroke-width="1.6" rx="0"/>
<rect x="422.4" y="856.4" width="20.0" height="5.4" fill="#800000"/>
<polyline points="431.9,861.6 431.9,871.9" fill="none" stroke="#800000" stroke-width="2.0" stroke-linecap="butt" shape-rendering="crispEdges"/>
<polyline points="431.9,871.9 431.9,886.2" fill="none" stroke="#008000" stroke-width="2.0" shape-rendering="crispEdges"/>
<text x="-0.83 7.94 16.71" y="0" transform="translate(429.20 836.80) rotate(-90) scale(1 1.0170)" font-family="Liberation Mono" font-size="15.20" fill="#7e7e7e" font-weight="normal" stroke="#7e7e7e" stroke-width="0.55">C20</text>
<polyline points="420.8,842.0 427.8,842.0" fill="none" stroke="#800000" stroke-width="1.8" stroke-linecap="butt" shape-rendering="crispEdges"/>
<polyline points="424.3,838.4 424.3,845.6" fill="none" stroke="#800000" stroke-width="1.8" stroke-linecap="butt" shape-rendering="crispEdges"/>
<text x="395.8" y="861.0" font-family="Liberation Sans" font-size="11.4" fill="#000" font-weight="normal" text-anchor="start" textLength="21.8" lengthAdjust="spacingAndGlyphs" stroke="#000" stroke-width="0.0" >22µF</text>
<polygon points="477.9,796.4 480.9,793.8 499.9,793.8 499.9,799.0 480.9,799.0" fill="#800000"/>
<path d="M497.8 789.3 A7.2 7.2 0 0 1 497.8 803.5" fill="none" stroke="#800000" stroke-width="2.4"/>
<polyline points="504.0,796.4 520.4,796.4" fill="none" stroke="#800000" stroke-width="2.2" stroke-linecap="butt" shape-rendering="crispEdges"/>
<circle cx="527.6" cy="796.4" r="7.2" fill="none" stroke="#800000" stroke-width="2.5"/>
<text x="497.8" y="814.8" font-family="Liberation Sans" font-size="11.6" fill="#000" font-weight="normal" text-anchor="start" textLength="28.0" lengthAdjust="spacingAndGlyphs" stroke="#000" stroke-width="0.0" >X17-4</text>
<polygon points="477.9,827.2 480.9,824.6 499.9,824.6 499.9,829.8 480.9,829.8" fill="#800000"/>
<path d="M497.8 820.1 A7.2 7.2 0 0 1 497.8 834.3" fill="none" stroke="#800000" stroke-width="2.4"/>
<polyline points="504.0,827.2 520.4,827.2" fill="none" stroke="#800000" stroke-width="2.2" stroke-linecap="butt" shape-rendering="crispEdges"/>
<circle cx="527.6" cy="827.2" r="7.2" fill="none" stroke="#800000" stroke-width="2.5"/>
<text x="497.8" y="845.6" font-family="Liberation Sans" font-size="11.6" fill="#000" font-weight="normal" text-anchor="start" textLength="28.0" lengthAdjust="spacingAndGlyphs" stroke="#000" stroke-width="0.0" >X17-3</text>
<polygon points="477.9,857.3 480.9,854.7 499.9,854.7 499.9,859.9 480.9,859.9" fill="#800000"/>
<path d="M497.8 850.2 A7.2 7.2 0 0 1 497.8 864.4" fill="none" stroke="#800000" stroke-width="2.4"/>
<polyline points="504.0,857.3 520.4,857.3" fill="none" stroke="#800000" stroke-width="2.2" stroke-linecap="butt" shape-rendering="crispEdges"/>
<circle cx="527.6" cy="857.3" r="7.2" fill="none" stroke="#800000" stroke-width="2.5"/>
<text x="497.8" y="875.8" font-family="Liberation Sans" font-size="11.6" fill="#000" font-weight="normal" text-anchor="start" textLength="28.0" lengthAdjust="spacingAndGlyphs" stroke="#000" stroke-width="0.0" >X17-2</text>
<polygon points="477.9,886.6 480.9,884.0 499.9,884.0 499.9,889.2 480.9,889.2" fill="#800000"/>
<path d="M497.8 879.5 A7.2 7.2 0 0 1 497.8 893.7" fill="none" stroke="#800000" stroke-width="2.4"/>
<polyline points="504.0,886.6 520.4,886.6" fill="none" stroke="#800000" stroke-width="2.2" stroke-linecap="butt" shape-rendering="crispEdges"/>
<circle cx="527.6" cy="886.6" r="7.2" fill="none" stroke="#800000" stroke-width="2.5"/>
<text x="497.8" y="906.6" font-family="Liberation Sans" font-size="11.6" fill="#000" font-weight="normal" text-anchor="start" textLength="28.0" lengthAdjust="spacingAndGlyphs" stroke="#000" stroke-width="0.0" >X17-1</text>
<text x="23.8" y="912.5" font-family="Liberation Sans" font-size="10.6" fill="#800000" font-weight="normal" text-anchor="start" textLength="76.4" lengthAdjust="spacingAndGlyphs" stroke="#800000" stroke-width="0.0" >Board version 3</text>
</svg>
</body></html>
